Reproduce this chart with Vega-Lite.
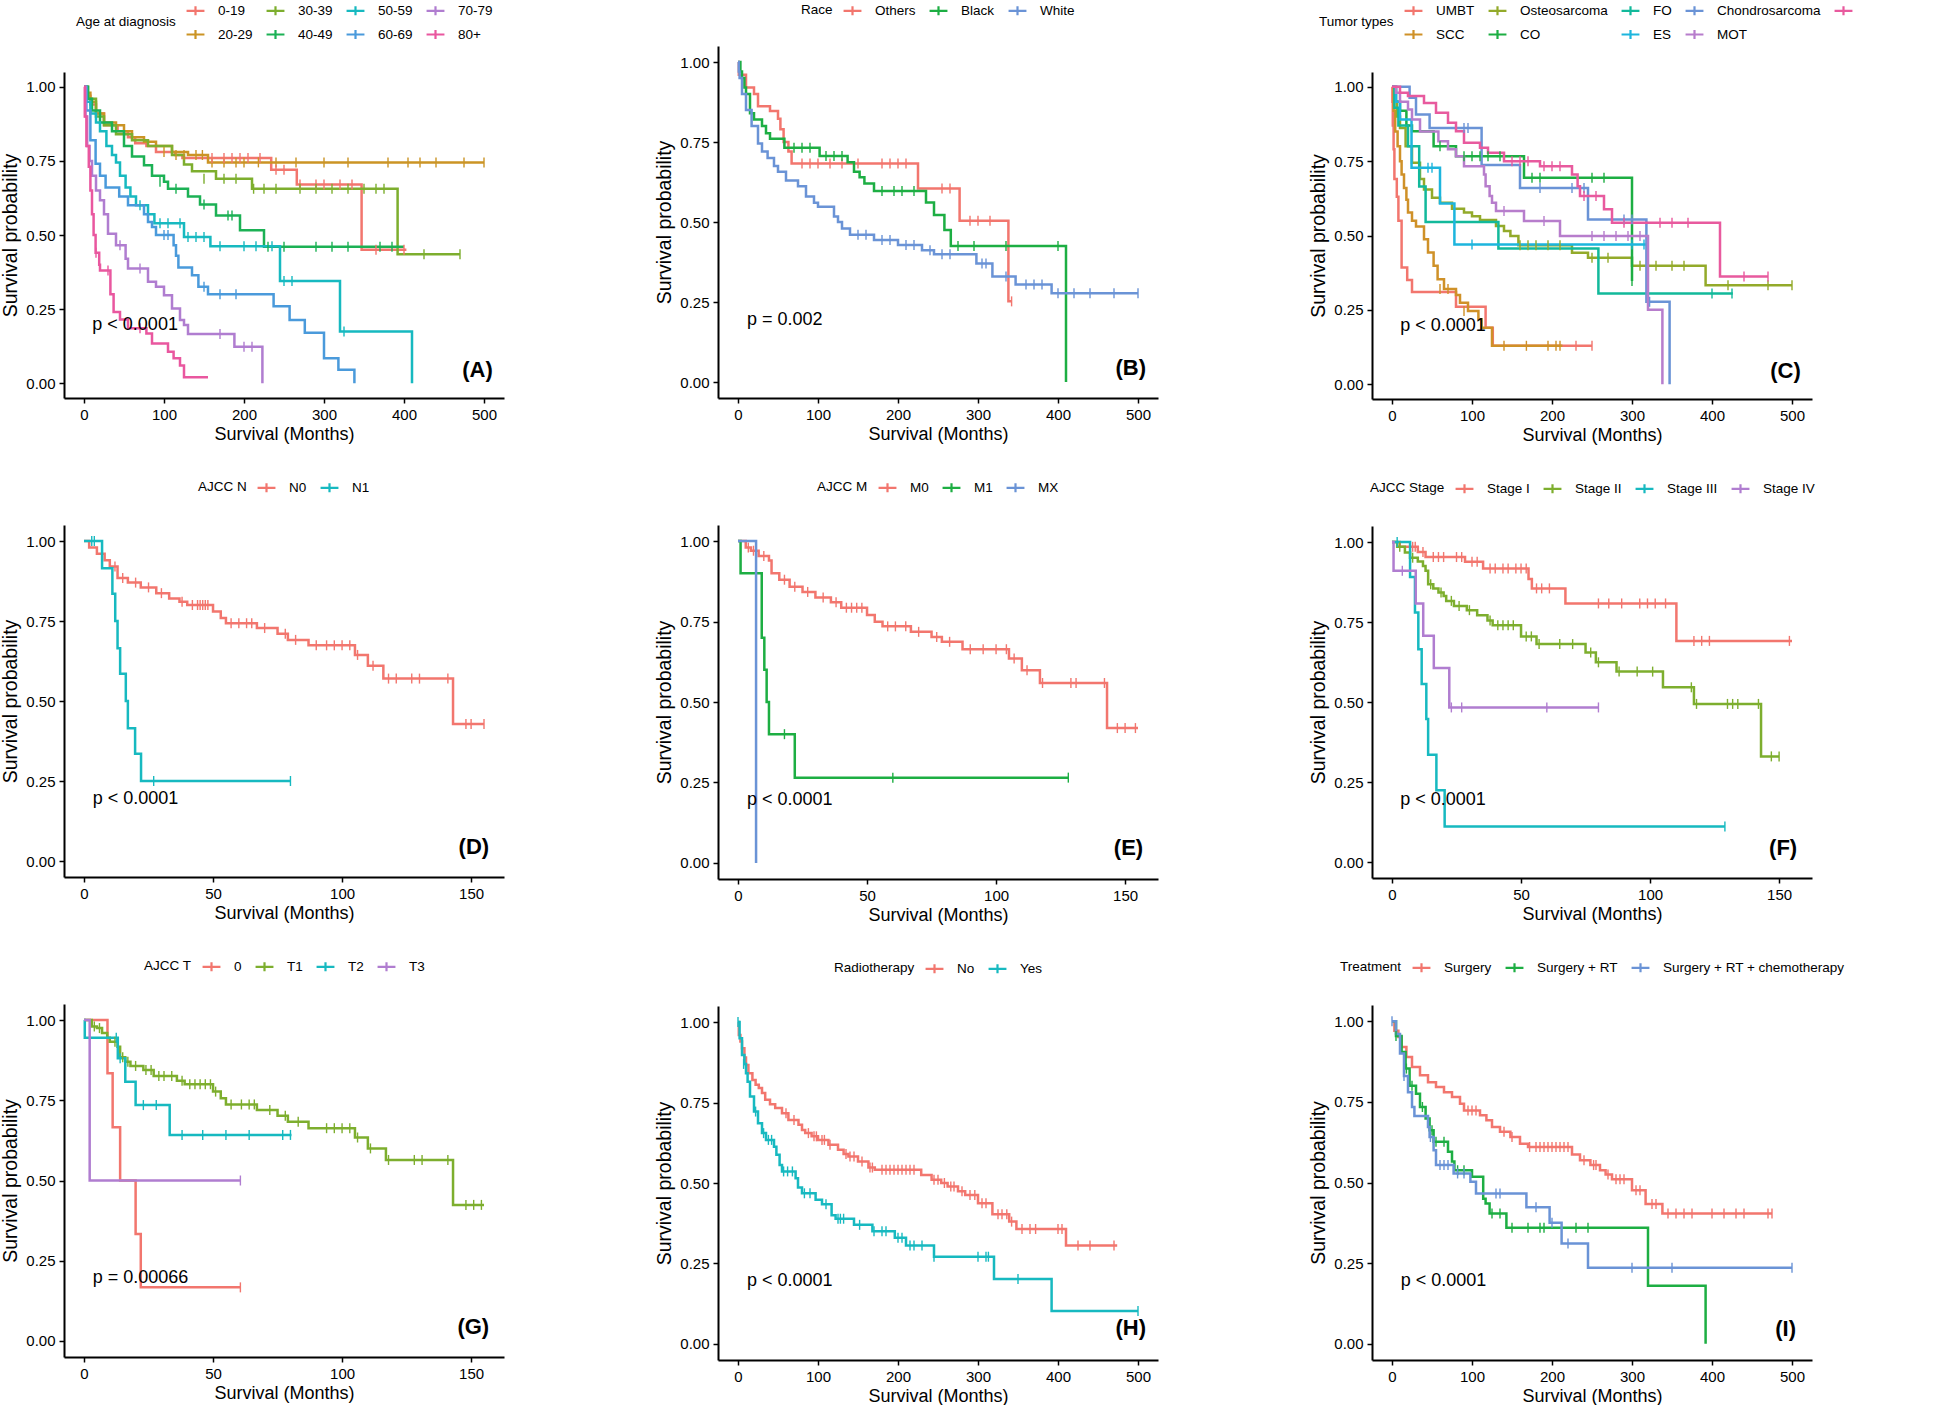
{
"$schema": "https://vega.github.io/schema/vega-lite/v6.json",
"padding": 0,
"background": "white",
"spacing": 150,
"resolve": {"scale": {"color": "independent"}, "legend": {"color": "independent"}},
"config": {
  "font": "Liberation Sans, Arial, sans-serif",
  "view": {"stroke": null},
  "axis": {"grid": false, "domainColor": "black", "domainWidth": 2, "tickColor": "black", "tickWidth": 1.5, "tickSize": 5, "labelColor": "black", "labelFontSize": 15, "labelPadding": 4, "titleFontSize": 18, "titleFontWeight": "normal", "titleColor": "black"},
  "axisY": {"titleFontSize": 19.5, "minExtent": 38, "maxExtent": 38, "titlePadding": 6},
  "axisX": {"titlePadding": 3},
  "legend": {"orient": "top", "direction": "horizontal", "titleOrient": "left", "titleFontSize": 13.5, "titleFontWeight": "normal", "labelFontSize": 13.5, "titleColor": "black", "labelColor": "black", "symbolType": "M-1,0H1M0,-0.5V0.5", "symbolSize": 320, "symbolStrokeWidth": 2.2, "offset": 28, "columnPadding": 9, "rowPadding": 4, "labelOffset": 12, "titlePadding": 9, "labelLimit": 300, "titleAnchor": "middle", "titleBaseline": "middle", "layout": {"top": {"anchor": "middle"}}}
},
"datasets": {
"cur": [
{"p":"A","g":"0-19","t":0,"s":1},{"p":"A","g":"0-19","t":3,"s":0.97},{"p":"A","g":"0-19","t":8,"s":0.94},{"p":"A","g":"0-19","t":15,"s":0.91},{"p":"A","g":"0-19","t":25,"s":0.87},{"p":"A","g":"0-19","t":42,"s":0.85},{"p":"A","g":"0-19","t":55,"s":0.83},{"p":"A","g":"0-19","t":64,"s":0.81},{"p":"A","g":"0-19","t":78,"s":0.8},{"p":"A","g":"0-19","t":90,"s":0.78},{"p":"A","g":"0-19","t":114,"s":0.77},{"p":"A","g":"0-19","t":123,"s":0.76},{"p":"A","g":"0-19","t":234,"s":0.72},{"p":"A","g":"0-19","t":266,"s":0.67},{"p":"A","g":"0-19","t":347,"s":0.45},{"p":"A","g":"0-19","t":403,"s":0.45},
{"p":"A","g":"20-29","t":0,"s":1},{"p":"A","g":"20-29","t":3,"s":0.98},{"p":"A","g":"20-29","t":8,"s":0.95},{"p":"A","g":"20-29","t":15,"s":0.91},{"p":"A","g":"20-29","t":25,"s":0.88},{"p":"A","g":"20-29","t":40,"s":0.87},{"p":"A","g":"20-29","t":50,"s":0.85},{"p":"A","g":"20-29","t":60,"s":0.83},{"p":"A","g":"20-29","t":75,"s":0.815},{"p":"A","g":"20-29","t":90,"s":0.8},{"p":"A","g":"20-29","t":110,"s":0.78},{"p":"A","g":"20-29","t":130,"s":0.77},{"p":"A","g":"20-29","t":155,"s":0.745},{"p":"A","g":"20-29","t":500,"s":0.745},
{"p":"A","g":"30-39","t":0,"s":1},{"p":"A","g":"30-39","t":5,"s":0.96},{"p":"A","g":"30-39","t":15,"s":0.9},{"p":"A","g":"30-39","t":25,"s":0.87},{"p":"A","g":"30-39","t":40,"s":0.84},{"p":"A","g":"30-39","t":60,"s":0.82},{"p":"A","g":"30-39","t":80,"s":0.8},{"p":"A","g":"30-39","t":110,"s":0.77},{"p":"A","g":"30-39","t":125,"s":0.738},{"p":"A","g":"30-39","t":135,"s":0.715},{"p":"A","g":"30-39","t":165,"s":0.69},{"p":"A","g":"30-39","t":210,"s":0.656},{"p":"A","g":"30-39","t":392,"s":0.435},{"p":"A","g":"30-39","t":470,"s":0.435},
{"p":"A","g":"40-49","t":0,"s":1},{"p":"A","g":"40-49","t":5,"s":0.96},{"p":"A","g":"40-49","t":10,"s":0.92},{"p":"A","g":"40-49","t":20,"s":0.88},{"p":"A","g":"40-49","t":35,"s":0.85},{"p":"A","g":"40-49","t":50,"s":0.8},{"p":"A","g":"40-49","t":60,"s":0.765},{"p":"A","g":"40-49","t":75,"s":0.735},{"p":"A","g":"40-49","t":85,"s":0.7},{"p":"A","g":"40-49","t":100,"s":0.68},{"p":"A","g":"40-49","t":105,"s":0.656},{"p":"A","g":"40-49","t":130,"s":0.63},{"p":"A","g":"40-49","t":145,"s":0.603},{"p":"A","g":"40-49","t":165,"s":0.566},{"p":"A","g":"40-49","t":195,"s":0.516},{"p":"A","g":"40-49","t":225,"s":0.46},{"p":"A","g":"40-49","t":400,"s":0.46},
{"p":"A","g":"50-59","t":0,"s":1},{"p":"A","g":"50-59","t":3,"s":0.95},{"p":"A","g":"50-59","t":8,"s":0.91},{"p":"A","g":"50-59","t":15,"s":0.88},{"p":"A","g":"50-59","t":20,"s":0.85},{"p":"A","g":"50-59","t":28,"s":0.8},{"p":"A","g":"50-59","t":35,"s":0.77},{"p":"A","g":"50-59","t":40,"s":0.745},{"p":"A","g":"50-59","t":45,"s":0.7},{"p":"A","g":"50-59","t":52,"s":0.66},{"p":"A","g":"50-59","t":58,"s":0.63},{"p":"A","g":"50-59","t":65,"s":0.6},{"p":"A","g":"50-59","t":80,"s":0.57},{"p":"A","g":"50-59","t":88,"s":0.54},{"p":"A","g":"50-59","t":125,"s":0.493},{"p":"A","g":"50-59","t":158,"s":0.462},{"p":"A","g":"50-59","t":245,"s":0.345},{"p":"A","g":"50-59","t":320,"s":0.174},{"p":"A","g":"50-59","t":410,"s":0},
{"p":"A","g":"60-69","t":0,"s":1},{"p":"A","g":"60-69","t":3,"s":0.92},{"p":"A","g":"60-69","t":8,"s":0.82},{"p":"A","g":"60-69","t":14.5,"s":0.74},{"p":"A","g":"60-69","t":20,"s":0.7},{"p":"A","g":"60-69","t":27,"s":0.66},{"p":"A","g":"60-69","t":44,"s":0.63},{"p":"A","g":"60-69","t":55,"s":0.6},{"p":"A","g":"60-69","t":75,"s":0.57},{"p":"A","g":"60-69","t":80,"s":0.544},{"p":"A","g":"60-69","t":85,"s":0.527},{"p":"A","g":"60-69","t":90,"s":0.5},{"p":"A","g":"60-69","t":112,"s":0.465},{"p":"A","g":"60-69","t":115,"s":0.43},{"p":"A","g":"60-69","t":118,"s":0.39},{"p":"A","g":"60-69","t":135,"s":0.364},{"p":"A","g":"60-69","t":143,"s":0.325},{"p":"A","g":"60-69","t":155,"s":0.3},{"p":"A","g":"60-69","t":237,"s":0.26},{"p":"A","g":"60-69","t":257,"s":0.213},{"p":"A","g":"60-69","t":276,"s":0.17},{"p":"A","g":"60-69","t":300,"s":0.084},{"p":"A","g":"60-69","t":318,"s":0.045},{"p":"A","g":"60-69","t":338,"s":0},
{"p":"A","g":"70-79","t":0,"s":1},{"p":"A","g":"70-79","t":2,"s":0.9},{"p":"A","g":"70-79","t":4,"s":0.8},{"p":"A","g":"70-79","t":7,"s":0.75},{"p":"A","g":"70-79","t":10,"s":0.7},{"p":"A","g":"70-79","t":15,"s":0.65},{"p":"A","g":"70-79","t":20,"s":0.617},{"p":"A","g":"70-79","t":25,"s":0.57},{"p":"A","g":"70-79","t":30,"s":0.504},{"p":"A","g":"70-79","t":40,"s":0.465},{"p":"A","g":"70-79","t":52,"s":0.42},{"p":"A","g":"70-79","t":55,"s":0.387},{"p":"A","g":"70-79","t":80,"s":0.342},{"p":"A","g":"70-79","t":90,"s":0.325},{"p":"A","g":"70-79","t":100,"s":0.297},{"p":"A","g":"70-79","t":110,"s":0.252},{"p":"A","g":"70-79","t":120,"s":0.213},{"p":"A","g":"70-79","t":125,"s":0.196},{"p":"A","g":"70-79","t":130,"s":0.166},{"p":"A","g":"70-79","t":188,"s":0.123},{"p":"A","g":"70-79","t":223,"s":0},
{"p":"A","g":"80+","t":0,"s":1},{"p":"A","g":"80+","t":1,"s":0.9},{"p":"A","g":"80+","t":3,"s":0.8},{"p":"A","g":"80+","t":6,"s":0.73},{"p":"A","g":"80+","t":8,"s":0.65},{"p":"A","g":"80+","t":10,"s":0.57},{"p":"A","g":"80+","t":12,"s":0.5},{"p":"A","g":"80+","t":14.5,"s":0.44},{"p":"A","g":"80+","t":19,"s":0.4},{"p":"A","g":"80+","t":20,"s":0.38},{"p":"A","g":"80+","t":33,"s":0.3},{"p":"A","g":"80+","t":37,"s":0.24},{"p":"A","g":"80+","t":45,"s":0.215},{"p":"A","g":"80+","t":55,"s":0.185},{"p":"A","g":"80+","t":78,"s":0.168},{"p":"A","g":"80+","t":85,"s":0.134},{"p":"A","g":"80+","t":105,"s":0.106},{"p":"A","g":"80+","t":112,"s":0.084},{"p":"A","g":"80+","t":120,"s":0.06},{"p":"A","g":"80+","t":125,"s":0.02},{"p":"A","g":"80+","t":155,"s":0.02},

{"p":"B","g":"Others","t":0,"s":1},{"p":"B","g":"Others","t":1,"s":0.96},{"p":"B","g":"Others","t":10,"s":0.92},{"p":"B","g":"Others","t":20,"s":0.9},{"p":"B","g":"Others","t":25,"s":0.862},{"p":"B","g":"Others","t":40,"s":0.847},{"p":"B","g":"Others","t":50,"s":0.823},{"p":"B","g":"Others","t":53,"s":0.79},{"p":"B","g":"Others","t":57,"s":0.75},{"p":"B","g":"Others","t":63,"s":0.72},{"p":"B","g":"Others","t":67,"s":0.683},{"p":"B","g":"Others","t":225,"s":0.605},{"p":"B","g":"Others","t":277,"s":0.504},{"p":"B","g":"Others","t":338,"s":0.252},{"p":"B","g":"Others","t":342,"s":0.252},
{"p":"B","g":"Black","t":0,"s":1},{"p":"B","g":"Black","t":3,"s":0.97},{"p":"B","g":"Black","t":5,"s":0.95},{"p":"B","g":"Black","t":8,"s":0.92},{"p":"B","g":"Black","t":10,"s":0.9},{"p":"B","g":"Black","t":15,"s":0.84},{"p":"B","g":"Black","t":20,"s":0.82},{"p":"B","g":"Black","t":30,"s":0.8},{"p":"B","g":"Black","t":35,"s":0.777},{"p":"B","g":"Black","t":40,"s":0.76},{"p":"B","g":"Black","t":58,"s":0.732},{"p":"B","g":"Black","t":102,"s":0.706},{"p":"B","g":"Black","t":137,"s":0.687},{"p":"B","g":"Black","t":145,"s":0.657},{"p":"B","g":"Black","t":152,"s":0.64},{"p":"B","g":"Black","t":158,"s":0.62},{"p":"B","g":"Black","t":170,"s":0.597},{"p":"B","g":"Black","t":235,"s":0.561},{"p":"B","g":"Black","t":245,"s":0.522},{"p":"B","g":"Black","t":258,"s":0.475},{"p":"B","g":"Black","t":266,"s":0.425},{"p":"B","g":"Black","t":410,"s":0},
{"p":"B","g":"White","t":0,"s":1},{"p":"B","g":"White","t":1,"s":0.97},{"p":"B","g":"White","t":2,"s":0.95},{"p":"B","g":"White","t":5,"s":0.9},{"p":"B","g":"White","t":10,"s":0.85},{"p":"B","g":"White","t":17,"s":0.8},{"p":"B","g":"White","t":25,"s":0.745},{"p":"B","g":"White","t":30,"s":0.72},{"p":"B","g":"White","t":37,"s":0.7},{"p":"B","g":"White","t":45,"s":0.675},{"p":"B","g":"White","t":50,"s":0.657},{"p":"B","g":"White","t":60,"s":0.63},{"p":"B","g":"White","t":75,"s":0.612},{"p":"B","g":"White","t":85,"s":0.58},{"p":"B","g":"White","t":95,"s":0.56},{"p":"B","g":"White","t":100,"s":0.548},{"p":"B","g":"White","t":120,"s":0.517},{"p":"B","g":"White","t":125,"s":0.5},{"p":"B","g":"White","t":130,"s":0.48},{"p":"B","g":"White","t":140,"s":0.46},{"p":"B","g":"White","t":170,"s":0.444},{"p":"B","g":"White","t":200,"s":0.428},{"p":"B","g":"White","t":230,"s":0.412},{"p":"B","g":"White","t":245,"s":0.399},{"p":"B","g":"White","t":298,"s":0.37},{"p":"B","g":"White","t":318,"s":0.33},{"p":"B","g":"White","t":347,"s":0.305},{"p":"B","g":"White","t":392,"s":0.277},{"p":"B","g":"White","t":500,"s":0.277},

{"p":"C","g":"UMBT","t":0,"s":1},{"p":"C","g":"UMBT","t":0.5,"s":0.95},{"p":"C","g":"UMBT","t":1,"s":0.87},{"p":"C","g":"UMBT","t":2,"s":0.79},{"p":"C","g":"UMBT","t":3,"s":0.69},{"p":"C","g":"UMBT","t":6,"s":0.63},{"p":"C","g":"UMBT","t":8,"s":0.55},{"p":"C","g":"UMBT","t":12,"s":0.392},{"p":"C","g":"UMBT","t":19,"s":0.35},{"p":"C","g":"UMBT","t":25,"s":0.31},{"p":"C","g":"UMBT","t":80,"s":0.26},{"p":"C","g":"UMBT","t":117,"s":0.19},{"p":"C","g":"UMBT","t":126,"s":0.129},{"p":"C","g":"UMBT","t":250,"s":0.129},
{"p":"C","g":"SCC","t":0,"s":1},{"p":"C","g":"SCC","t":2,"s":0.92},{"p":"C","g":"SCC","t":4,"s":0.85},{"p":"C","g":"SCC","t":7,"s":0.8},{"p":"C","g":"SCC","t":10,"s":0.75},{"p":"C","g":"SCC","t":12,"s":0.705},{"p":"C","g":"SCC","t":15,"s":0.66},{"p":"C","g":"SCC","t":18,"s":0.62},{"p":"C","g":"SCC","t":20,"s":0.577},{"p":"C","g":"SCC","t":25,"s":0.55},{"p":"C","g":"SCC","t":30,"s":0.53},{"p":"C","g":"SCC","t":40,"s":0.487},{"p":"C","g":"SCC","t":45,"s":0.443},{"p":"C","g":"SCC","t":52,"s":0.398},{"p":"C","g":"SCC","t":57,"s":0.353},{"p":"C","g":"SCC","t":65,"s":0.32},{"p":"C","g":"SCC","t":80,"s":0.3},{"p":"C","g":"SCC","t":85,"s":0.274},{"p":"C","g":"SCC","t":95,"s":0.246},{"p":"C","g":"SCC","t":108,"s":0.218},{"p":"C","g":"SCC","t":112,"s":0.19},{"p":"C","g":"SCC","t":125,"s":0.129},{"p":"C","g":"SCC","t":213,"s":0.129},
{"p":"C","g":"Osteosarcoma","t":0,"s":1},{"p":"C","g":"Osteosarcoma","t":3,"s":0.95},{"p":"C","g":"Osteosarcoma","t":6,"s":0.9},{"p":"C","g":"Osteosarcoma","t":10,"s":0.862},{"p":"C","g":"Osteosarcoma","t":17,"s":0.8},{"p":"C","g":"Osteosarcoma","t":25,"s":0.745},{"p":"C","g":"Osteosarcoma","t":35,"s":0.69},{"p":"C","g":"Osteosarcoma","t":40,"s":0.655},{"p":"C","g":"Osteosarcoma","t":50,"s":0.627},{"p":"C","g":"Osteosarcoma","t":60,"s":0.61},{"p":"C","g":"Osteosarcoma","t":75,"s":0.59},{"p":"C","g":"Osteosarcoma","t":90,"s":0.577},{"p":"C","g":"Osteosarcoma","t":100,"s":0.565},{"p":"C","g":"Osteosarcoma","t":110,"s":0.552},{"p":"C","g":"Osteosarcoma","t":130,"s":0.532},{"p":"C","g":"Osteosarcoma","t":140,"s":0.515},{"p":"C","g":"Osteosarcoma","t":148,"s":0.498},{"p":"C","g":"Osteosarcoma","t":158,"s":0.467},{"p":"C","g":"Osteosarcoma","t":225,"s":0.442},{"p":"C","g":"Osteosarcoma","t":245,"s":0.425},{"p":"C","g":"Osteosarcoma","t":300,"s":0.398},{"p":"C","g":"Osteosarcoma","t":392,"s":0.333},{"p":"C","g":"Osteosarcoma","t":500,"s":0.333},
{"p":"C","g":"CO","t":0,"s":1},{"p":"C","g":"CO","t":5,"s":0.95},{"p":"C","g":"CO","t":10,"s":0.92},{"p":"C","g":"CO","t":18,"s":0.87},{"p":"C","g":"CO","t":25,"s":0.851},{"p":"C","g":"CO","t":52,"s":0.8},{"p":"C","g":"CO","t":80,"s":0.767},{"p":"C","g":"CO","t":165,"s":0.694},{"p":"C","g":"CO","t":300,"s":0.347},
{"p":"C","g":"FO","t":0,"s":1},{"p":"C","g":"FO","t":3,"s":0.93},{"p":"C","g":"FO","t":8,"s":0.87},{"p":"C","g":"FO","t":20,"s":0.8},{"p":"C","g":"FO","t":34,"s":0.665},{"p":"C","g":"FO","t":42,"s":0.545},{"p":"C","g":"FO","t":133,"s":0.456},{"p":"C","g":"FO","t":258,"s":0.305},{"p":"C","g":"FO","t":426,"s":0.305},
{"p":"C","g":"ES","t":0,"s":1},{"p":"C","g":"ES","t":5,"s":0.95},{"p":"C","g":"ES","t":10,"s":0.89},{"p":"C","g":"ES","t":24.4,"s":0.728},{"p":"C","g":"ES","t":60,"s":0.608},{"p":"C","g":"ES","t":78,"s":0.47},{"p":"C","g":"ES","t":318,"s":0.47},
{"p":"C","g":"Chondrosarcoma","t":0,"s":1},{"p":"C","g":"Chondrosarcoma","t":22,"s":0.963},{"p":"C","g":"Chondrosarcoma","t":30,"s":0.907},{"p":"C","g":"Chondrosarcoma","t":47,"s":0.862},{"p":"C","g":"Chondrosarcoma","t":112,"s":0.737},{"p":"C","g":"Chondrosarcoma","t":160,"s":0.66},{"p":"C","g":"Chondrosarcoma","t":245,"s":0.554},{"p":"C","g":"Chondrosarcoma","t":318,"s":0.277},{"p":"C","g":"Chondrosarcoma","t":347,"s":0},
{"p":"C","g":"MOT","t":0,"s":1},{"p":"C","g":"MOT","t":5,"s":0.98},{"p":"C","g":"MOT","t":10,"s":0.95},{"p":"C","g":"MOT","t":20,"s":0.924},{"p":"C","g":"MOT","t":25,"s":0.89},{"p":"C","g":"MOT","t":35,"s":0.85},{"p":"C","g":"MOT","t":58,"s":0.817},{"p":"C","g":"MOT","t":70,"s":0.79},{"p":"C","g":"MOT","t":80,"s":0.767},{"p":"C","g":"MOT","t":90,"s":0.733},{"p":"C","g":"MOT","t":115,"s":0.705},{"p":"C","g":"MOT","t":117,"s":0.666},{"p":"C","g":"MOT","t":122,"s":0.633},{"p":"C","g":"MOT","t":125,"s":0.61},{"p":"C","g":"MOT","t":130,"s":0.582},{"p":"C","g":"MOT","t":165,"s":0.549},{"p":"C","g":"MOT","t":210,"s":0.498},{"p":"C","g":"MOT","t":320,"s":0.25},{"p":"C","g":"MOT","t":338,"s":0},
{"p":"C","g":"Other","t":0,"s":1},{"p":"C","g":"Other","t":10,"s":0.98},{"p":"C","g":"Other","t":20,"s":0.969},{"p":"C","g":"Other","t":40,"s":0.946},{"p":"C","g":"Other","t":55,"s":0.913},{"p":"C","g":"Other","t":70,"s":0.879},{"p":"C","g":"Other","t":80,"s":0.851},{"p":"C","g":"Other","t":90,"s":0.812},{"p":"C","g":"Other","t":110,"s":0.795},{"p":"C","g":"Other","t":120,"s":0.778},{"p":"C","g":"Other","t":140,"s":0.75},{"p":"C","g":"Other","t":185,"s":0.733},{"p":"C","g":"Other","t":225,"s":0.705},{"p":"C","g":"Other","t":232,"s":0.666},{"p":"C","g":"Other","t":235,"s":0.633},{"p":"C","g":"Other","t":265,"s":0.588},{"p":"C","g":"Other","t":275,"s":0.543},{"p":"C","g":"Other","t":410,"s":0.362},{"p":"C","g":"Other","t":470,"s":0.362},

{"p":"D","g":"N0","t":0,"s":1},{"p":"D","g":"N0","t":2,"s":0.98},{"p":"D","g":"N0","t":5,"s":0.96},{"p":"D","g":"N0","t":8,"s":0.94},{"p":"D","g":"N0","t":10,"s":0.92},{"p":"D","g":"N0","t":13,"s":0.884},{"p":"D","g":"N0","t":17,"s":0.87},{"p":"D","g":"N0","t":22,"s":0.855},{"p":"D","g":"N0","t":28,"s":0.837},{"p":"D","g":"N0","t":33,"s":0.82},{"p":"D","g":"N0","t":37,"s":0.81},{"p":"D","g":"N0","t":40,"s":0.8},{"p":"D","g":"N0","t":50,"s":0.78},{"p":"D","g":"N0","t":53,"s":0.759},{"p":"D","g":"N0","t":55,"s":0.743},{"p":"D","g":"N0","t":67,"s":0.728},{"p":"D","g":"N0","t":75,"s":0.71},{"p":"D","g":"N0","t":79,"s":0.691},{"p":"D","g":"N0","t":87,"s":0.674},{"p":"D","g":"N0","t":105,"s":0.644},{"p":"D","g":"N0","t":110,"s":0.61},{"p":"D","g":"N0","t":116,"s":0.57},{"p":"D","g":"N0","t":143,"s":0.428},{"p":"D","g":"N0","t":155,"s":0.428},
{"p":"D","g":"N1","t":0,"s":1},{"p":"D","g":"N1","t":7,"s":0.915},{"p":"D","g":"N1","t":11,"s":0.835},{"p":"D","g":"N1","t":12.1,"s":0.75},{"p":"D","g":"N1","t":13,"s":0.665},{"p":"D","g":"N1","t":14,"s":0.585},{"p":"D","g":"N1","t":16.2,"s":0.5},{"p":"D","g":"N1","t":17,"s":0.415},{"p":"D","g":"N1","t":19.8,"s":0.335},{"p":"D","g":"N1","t":22.1,"s":0.25},{"p":"D","g":"N1","t":80,"s":0.25},

{"p":"E","g":"M0","t":0,"s":1},{"p":"E","g":"M0","t":3,"s":0.98},{"p":"E","g":"M0","t":5,"s":0.97},{"p":"E","g":"M0","t":8,"s":0.954},{"p":"E","g":"M0","t":12,"s":0.94},{"p":"E","g":"M0","t":13,"s":0.9},{"p":"E","g":"M0","t":16,"s":0.88},{"p":"E","g":"M0","t":20,"s":0.858},{"p":"E","g":"M0","t":25,"s":0.842},{"p":"E","g":"M0","t":30,"s":0.825},{"p":"E","g":"M0","t":36,"s":0.81},{"p":"E","g":"M0","t":40,"s":0.793},{"p":"E","g":"M0","t":50,"s":0.77},{"p":"E","g":"M0","t":53,"s":0.749},{"p":"E","g":"M0","t":56,"s":0.735},{"p":"E","g":"M0","t":67,"s":0.718},{"p":"E","g":"M0","t":75,"s":0.702},{"p":"E","g":"M0","t":79,"s":0.687},{"p":"E","g":"M0","t":87,"s":0.664},{"p":"E","g":"M0","t":105,"s":0.635},{"p":"E","g":"M0","t":110,"s":0.599},{"p":"E","g":"M0","t":117,"s":0.559},{"p":"E","g":"M0","t":143,"s":0.419},{"p":"E","g":"M0","t":155,"s":0.419},
{"p":"E","g":"M1","t":0,"s":1},{"p":"E","g":"M1","t":1,"s":0.9},{"p":"E","g":"M1","t":9.2,"s":0.7},{"p":"E","g":"M1","t":10.2,"s":0.6},{"p":"E","g":"M1","t":11.1,"s":0.5},{"p":"E","g":"M1","t":12,"s":0.4},{"p":"E","g":"M1","t":22,"s":0.265},{"p":"E","g":"M1","t":128,"s":0.265},
{"p":"E","g":"MX","t":0,"s":1},{"p":"E","g":"MX","t":7,"s":0},

{"p":"F","g":"Stage I","t":0,"s":1},{"p":"F","g":"Stage I","t":3,"s":0.985},{"p":"F","g":"Stage I","t":10,"s":0.969},{"p":"F","g":"Stage I","t":13,"s":0.953},{"p":"F","g":"Stage I","t":28.3,"s":0.938},{"p":"F","g":"Stage I","t":35.3,"s":0.917},{"p":"F","g":"Stage I","t":52.9,"s":0.884},{"p":"F","g":"Stage I","t":54.2,"s":0.855},{"p":"F","g":"Stage I","t":67.2,"s":0.808},{"p":"F","g":"Stage I","t":110.2,"s":0.691},{"p":"F","g":"Stage I","t":155,"s":0.691},
{"p":"F","g":"Stage II","t":0,"s":1},{"p":"F","g":"Stage II","t":2,"s":0.985},{"p":"F","g":"Stage II","t":5,"s":0.967},{"p":"F","g":"Stage II","t":7,"s":0.951},{"p":"F","g":"Stage II","t":10,"s":0.939},{"p":"F","g":"Stage II","t":12,"s":0.925},{"p":"F","g":"Stage II","t":13,"s":0.91},{"p":"F","g":"Stage II","t":14,"s":0.868},{"p":"F","g":"Stage II","t":16,"s":0.855},{"p":"F","g":"Stage II","t":18,"s":0.842},{"p":"F","g":"Stage II","t":20,"s":0.831},{"p":"F","g":"Stage II","t":21,"s":0.816},{"p":"F","g":"Stage II","t":24,"s":0.8},{"p":"F","g":"Stage II","t":29,"s":0.787},{"p":"F","g":"Stage II","t":33,"s":0.771},{"p":"F","g":"Stage II","t":37,"s":0.755},{"p":"F","g":"Stage II","t":39,"s":0.74},{"p":"F","g":"Stage II","t":50,"s":0.705},{"p":"F","g":"Stage II","t":56,"s":0.681},{"p":"F","g":"Stage II","t":75,"s":0.655},{"p":"F","g":"Stage II","t":79,"s":0.624},{"p":"F","g":"Stage II","t":87,"s":0.595},{"p":"F","g":"Stage II","t":105,"s":0.546},{"p":"F","g":"Stage II","t":117,"s":0.494},{"p":"F","g":"Stage II","t":143,"s":0.33},{"p":"F","g":"Stage II","t":150,"s":0.33},
{"p":"F","g":"Stage III","t":0,"s":1},{"p":"F","g":"Stage III","t":7,"s":0.891},{"p":"F","g":"Stage III","t":8.9,"s":0.78},{"p":"F","g":"Stage III","t":10.2,"s":0.665},{"p":"F","g":"Stage III","t":11.5,"s":0.556},{"p":"F","g":"Stage III","t":13.3,"s":0.447},{"p":"F","g":"Stage III","t":14,"s":0.335},{"p":"F","g":"Stage III","t":17.2,"s":0.224},{"p":"F","g":"Stage III","t":20.4,"s":0.111},{"p":"F","g":"Stage III","t":129,"s":0.111},
{"p":"F","g":"Stage IV","t":0,"s":1},{"p":"F","g":"Stage IV","t":0.6,"s":0.91},{"p":"F","g":"Stage IV","t":9.2,"s":0.808},{"p":"F","g":"Stage IV","t":12.1,"s":0.707},{"p":"F","g":"Stage IV","t":16.2,"s":0.606},{"p":"F","g":"Stage IV","t":22.2,"s":0.483},{"p":"F","g":"Stage IV","t":80,"s":0.483},

{"p":"G","g":"0","t":0,"s":1},{"p":"G","g":"0","t":9.1,"s":0.834},{"p":"G","g":"0","t":11.1,"s":0.666},{"p":"G","g":"0","t":14,"s":0.5},{"p":"G","g":"0","t":20,"s":0.333},{"p":"G","g":"0","t":22,"s":0.167},{"p":"G","g":"0","t":60.6,"s":0.167},
{"p":"G","g":"T1","t":0,"s":1},{"p":"G","g":"T1","t":3,"s":0.98},{"p":"G","g":"T1","t":5,"s":0.975},{"p":"G","g":"T1","t":7,"s":0.96},{"p":"G","g":"T1","t":9,"s":0.945},{"p":"G","g":"T1","t":10,"s":0.932},{"p":"G","g":"T1","t":13,"s":0.917},{"p":"G","g":"T1","t":14,"s":0.884},{"p":"G","g":"T1","t":16,"s":0.87},{"p":"G","g":"T1","t":18,"s":0.857},{"p":"G","g":"T1","t":23,"s":0.844},{"p":"G","g":"T1","t":27,"s":0.826},{"p":"G","g":"T1","t":36,"s":0.811},{"p":"G","g":"T1","t":39,"s":0.8},{"p":"G","g":"T1","t":50,"s":0.777},{"p":"G","g":"T1","t":53,"s":0.756},{"p":"G","g":"T1","t":55,"s":0.737},{"p":"G","g":"T1","t":67,"s":0.72},{"p":"G","g":"T1","t":75,"s":0.702},{"p":"G","g":"T1","t":79,"s":0.683},{"p":"G","g":"T1","t":87,"s":0.663},{"p":"G","g":"T1","t":105,"s":0.634},{"p":"G","g":"T1","t":110,"s":0.6},{"p":"G","g":"T1","t":117,"s":0.564},{"p":"G","g":"T1","t":143,"s":0.424},{"p":"G","g":"T1","t":155,"s":0.424},
{"p":"G","g":"T2","t":0,"s":1},{"p":"G","g":"T2","t":0.3,"s":0.945},{"p":"G","g":"T2","t":13.1,"s":0.881},{"p":"G","g":"T2","t":16,"s":0.808},{"p":"G","g":"T2","t":20,"s":0.735},{"p":"G","g":"T2","t":33.2,"s":0.642},{"p":"G","g":"T2","t":80.4,"s":0.642},
{"p":"G","g":"T3","t":0,"s":1},{"p":"G","g":"T3","t":2.2,"s":0.5},{"p":"G","g":"T3","t":60.6,"s":0.5},

{"p":"H","g":"No","t":0,"s":1},{"p":"H","g":"No","t":1,"s":0.96},{"p":"H","g":"No","t":3,"s":0.94},{"p":"H","g":"No","t":5,"s":0.919},{"p":"H","g":"No","t":8,"s":0.89},{"p":"H","g":"No","t":10,"s":0.867},{"p":"H","g":"No","t":13,"s":0.841},{"p":"H","g":"No","t":18,"s":0.82},{"p":"H","g":"No","t":22,"s":0.805},{"p":"H","g":"No","t":26,"s":0.795},{"p":"H","g":"No","t":30,"s":0.78},{"p":"H","g":"No","t":34,"s":0.759},{"p":"H","g":"No","t":40,"s":0.745},{"p":"H","g":"No","t":46.5,"s":0.733},{"p":"H","g":"No","t":55,"s":0.717},{"p":"H","g":"No","t":63,"s":0.696},{"p":"H","g":"No","t":75.6,"s":0.681},{"p":"H","g":"No","t":80,"s":0.665},{"p":"H","g":"No","t":84,"s":0.655},{"p":"H","g":"No","t":92,"s":0.645},{"p":"H","g":"No","t":100,"s":0.634},{"p":"H","g":"No","t":113,"s":0.619},{"p":"H","g":"No","t":125,"s":0.603},{"p":"H","g":"No","t":132,"s":0.59},{"p":"H","g":"No","t":138,"s":0.582},{"p":"H","g":"No","t":150,"s":0.567},{"p":"H","g":"No","t":163,"s":0.548},{"p":"H","g":"No","t":171,"s":0.541},{"p":"H","g":"No","t":229,"s":0.525},{"p":"H","g":"No","t":242,"s":0.51},{"p":"H","g":"No","t":254,"s":0.5},{"p":"H","g":"No","t":262,"s":0.489},{"p":"H","g":"No","t":275,"s":0.474},{"p":"H","g":"No","t":284,"s":0.463},{"p":"H","g":"No","t":300,"s":0.437},{"p":"H","g":"No","t":318,"s":0.403},{"p":"H","g":"No","t":339,"s":0.38},{"p":"H","g":"No","t":348,"s":0.357},{"p":"H","g":"No","t":410,"s":0.306},{"p":"H","g":"No","t":474,"s":0.306},
{"p":"H","g":"Yes","t":0,"s":1},{"p":"H","g":"Yes","t":2,"s":0.95},{"p":"H","g":"Yes","t":5,"s":0.898},{"p":"H","g":"Yes","t":8,"s":0.87},{"p":"H","g":"Yes","t":10,"s":0.841},{"p":"H","g":"Yes","t":12,"s":0.815},{"p":"H","g":"Yes","t":15,"s":0.769},{"p":"H","g":"Yes","t":20,"s":0.722},{"p":"H","g":"Yes","t":25,"s":0.686},{"p":"H","g":"Yes","t":30,"s":0.655},{"p":"H","g":"Yes","t":35,"s":0.634},{"p":"H","g":"Yes","t":45,"s":0.613},{"p":"H","g":"Yes","t":48,"s":0.588},{"p":"H","g":"Yes","t":52,"s":0.556},{"p":"H","g":"Yes","t":55,"s":0.536},{"p":"H","g":"Yes","t":72,"s":0.515},{"p":"H","g":"Yes","t":75,"s":0.486},{"p":"H","g":"Yes","t":80,"s":0.468},{"p":"H","g":"Yes","t":97,"s":0.448},{"p":"H","g":"Yes","t":105,"s":0.434},{"p":"H","g":"Yes","t":117,"s":0.4},{"p":"H","g":"Yes","t":122,"s":0.389},{"p":"H","g":"Yes","t":145,"s":0.37},{"p":"H","g":"Yes","t":168,"s":0.35},{"p":"H","g":"Yes","t":196,"s":0.33},{"p":"H","g":"Yes","t":210,"s":0.306},{"p":"H","g":"Yes","t":245,"s":0.271},{"p":"H","g":"Yes","t":320,"s":0.202},{"p":"H","g":"Yes","t":392,"s":0.102},{"p":"H","g":"Yes","t":500,"s":0.102},

{"p":"I","g":"Surgery","t":0,"s":1},{"p":"I","g":"Surgery","t":3,"s":0.97},{"p":"I","g":"Surgery","t":8,"s":0.951},{"p":"I","g":"Surgery","t":12,"s":0.92},{"p":"I","g":"Surgery","t":18,"s":0.889},{"p":"I","g":"Surgery","t":25,"s":0.858},{"p":"I","g":"Surgery","t":35,"s":0.832},{"p":"I","g":"Surgery","t":45,"s":0.811},{"p":"I","g":"Surgery","t":55,"s":0.796},{"p":"I","g":"Surgery","t":65,"s":0.78},{"p":"I","g":"Surgery","t":75,"s":0.765},{"p":"I","g":"Surgery","t":85,"s":0.744},{"p":"I","g":"Surgery","t":90,"s":0.723},{"p":"I","g":"Surgery","t":110,"s":0.708},{"p":"I","g":"Surgery","t":118,"s":0.693},{"p":"I","g":"Surgery","t":125,"s":0.672},{"p":"I","g":"Surgery","t":135,"s":0.657},{"p":"I","g":"Surgery","t":148,"s":0.641},{"p":"I","g":"Surgery","t":160,"s":0.62},{"p":"I","g":"Surgery","t":170,"s":0.61},{"p":"I","g":"Surgery","t":225,"s":0.587},{"p":"I","g":"Surgery","t":235,"s":0.569},{"p":"I","g":"Surgery","t":248,"s":0.554},{"p":"I","g":"Surgery","t":260,"s":0.538},{"p":"I","g":"Surgery","t":267,"s":0.525},{"p":"I","g":"Surgery","t":275,"s":0.51},{"p":"I","g":"Surgery","t":300,"s":0.476},{"p":"I","g":"Surgery","t":317,"s":0.433},{"p":"I","g":"Surgery","t":338,"s":0.404},{"p":"I","g":"Surgery","t":475,"s":0.404},
{"p":"I","g":"Surgery + RT","t":0,"s":1},{"p":"I","g":"Surgery + RT","t":5,"s":0.954},{"p":"I","g":"Surgery + RT","t":12,"s":0.904},{"p":"I","g":"Surgery + RT","t":17,"s":0.853},{"p":"I","g":"Surgery + RT","t":22,"s":0.8},{"p":"I","g":"Surgery + RT","t":30,"s":0.775},{"p":"I","g":"Surgery + RT","t":35,"s":0.734},{"p":"I","g":"Surgery + RT","t":42,"s":0.698},{"p":"I","g":"Surgery + RT","t":47,"s":0.662},{"p":"I","g":"Surgery + RT","t":52,"s":0.626},{"p":"I","g":"Surgery + RT","t":70,"s":0.595},{"p":"I","g":"Surgery + RT","t":75,"s":0.565},{"p":"I","g":"Surgery + RT","t":78,"s":0.538},{"p":"I","g":"Surgery + RT","t":100,"s":0.518},{"p":"I","g":"Surgery + RT","t":114,"s":0.45},{"p":"I","g":"Surgery + RT","t":117,"s":0.435},{"p":"I","g":"Surgery + RT","t":122,"s":0.404},{"p":"I","g":"Surgery + RT","t":143,"s":0.36},{"p":"I","g":"Surgery + RT","t":320,"s":0.18},{"p":"I","g":"Surgery + RT","t":392,"s":0},
{"p":"I","g":"Surgery + RT + chemotherapy","t":0,"s":1},{"p":"I","g":"Surgery + RT + chemotherapy","t":5,"s":0.96},{"p":"I","g":"Surgery + RT + chemotherapy","t":10,"s":0.9},{"p":"I","g":"Surgery + RT + chemotherapy","t":15,"s":0.83},{"p":"I","g":"Surgery + RT + chemotherapy","t":20,"s":0.78},{"p":"I","g":"Surgery + RT + chemotherapy","t":25,"s":0.734},{"p":"I","g":"Surgery + RT + chemotherapy","t":28,"s":0.706},{"p":"I","g":"Surgery + RT + chemotherapy","t":45,"s":0.672},{"p":"I","g":"Surgery + RT + chemotherapy","t":47,"s":0.641},{"p":"I","g":"Surgery + RT + chemotherapy","t":52,"s":0.6},{"p":"I","g":"Surgery + RT + chemotherapy","t":55,"s":0.554},{"p":"I","g":"Surgery + RT + chemotherapy","t":77,"s":0.528},{"p":"I","g":"Surgery + RT + chemotherapy","t":98,"s":0.502},{"p":"I","g":"Surgery + RT + chemotherapy","t":105,"s":0.466},{"p":"I","g":"Surgery + RT + chemotherapy","t":168,"s":0.423},{"p":"I","g":"Surgery + RT + chemotherapy","t":197,"s":0.375},{"p":"I","g":"Surgery + RT + chemotherapy","t":212,"s":0.311},{"p":"I","g":"Surgery + RT + chemotherapy","t":245,"s":0.236},{"p":"I","g":"Surgery + RT + chemotherapy","t":500,"s":0.236}
],
"cen": [
{"p":"A","g":"20-29","t":100,"s":0.78},{"p":"A","g":"20-29","t":115,"s":0.77},{"p":"A","g":"20-29","t":125,"s":0.77},{"p":"A","g":"20-29","t":140,"s":0.77},{"p":"A","g":"20-29","t":148,"s":0.77},{"p":"A","g":"20-29","t":160,"s":0.745},{"p":"A","g":"20-29","t":175,"s":0.745},{"p":"A","g":"20-29","t":190,"s":0.745},{"p":"A","g":"20-29","t":200,"s":0.745},{"p":"A","g":"20-29","t":218,"s":0.745},{"p":"A","g":"20-29","t":240,"s":0.745},{"p":"A","g":"20-29","t":265,"s":0.745},{"p":"A","g":"20-29","t":300,"s":0.745},{"p":"A","g":"20-29","t":330,"s":0.745},{"p":"A","g":"20-29","t":380,"s":0.745},{"p":"A","g":"20-29","t":405,"s":0.745},{"p":"A","g":"20-29","t":420,"s":0.745},{"p":"A","g":"20-29","t":440,"s":0.745},{"p":"A","g":"20-29","t":475,"s":0.745},{"p":"A","g":"20-29","t":500,"s":0.745},
{"p":"A","g":"0-19","t":160,"s":0.76},{"p":"A","g":"0-19","t":175,"s":0.76},{"p":"A","g":"0-19","t":185,"s":0.76},{"p":"A","g":"0-19","t":195,"s":0.76},{"p":"A","g":"0-19","t":205,"s":0.76},{"p":"A","g":"0-19","t":220,"s":0.76},{"p":"A","g":"0-19","t":240,"s":0.72},{"p":"A","g":"0-19","t":250,"s":0.72},{"p":"A","g":"0-19","t":270,"s":0.67},{"p":"A","g":"0-19","t":290,"s":0.67},{"p":"A","g":"0-19","t":300,"s":0.67},{"p":"A","g":"0-19","t":320,"s":0.67},{"p":"A","g":"0-19","t":335,"s":0.67},{"p":"A","g":"0-19","t":365,"s":0.45},{"p":"A","g":"0-19","t":400,"s":0.45},
{"p":"A","g":"30-39","t":150,"s":0.69},{"p":"A","g":"30-39","t":175,"s":0.69},{"p":"A","g":"30-39","t":190,"s":0.69},{"p":"A","g":"30-39","t":212,"s":0.656},{"p":"A","g":"30-39","t":225,"s":0.656},{"p":"A","g":"30-39","t":240,"s":0.656},{"p":"A","g":"30-39","t":270,"s":0.656},{"p":"A","g":"30-39","t":290,"s":0.656},{"p":"A","g":"30-39","t":310,"s":0.656},{"p":"A","g":"30-39","t":330,"s":0.656},{"p":"A","g":"30-39","t":350,"s":0.656},{"p":"A","g":"30-39","t":365,"s":0.656},{"p":"A","g":"30-39","t":375,"s":0.656},{"p":"A","g":"30-39","t":425,"s":0.435},{"p":"A","g":"30-39","t":470,"s":0.435},
{"p":"A","g":"40-49","t":95,"s":0.68},{"p":"A","g":"40-49","t":115,"s":0.656},{"p":"A","g":"40-49","t":150,"s":0.603},{"p":"A","g":"40-49","t":180,"s":0.566},{"p":"A","g":"40-49","t":185,"s":0.566},{"p":"A","g":"40-49","t":230,"s":0.46},{"p":"A","g":"40-49","t":250,"s":0.46},{"p":"A","g":"40-49","t":290,"s":0.46},{"p":"A","g":"40-49","t":310,"s":0.46},{"p":"A","g":"40-49","t":330,"s":0.46},{"p":"A","g":"40-49","t":370,"s":0.46},{"p":"A","g":"40-49","t":385,"s":0.46},
{"p":"A","g":"50-59","t":70,"s":0.6},{"p":"A","g":"50-59","t":95,"s":0.54},{"p":"A","g":"50-59","t":105,"s":0.54},{"p":"A","g":"50-59","t":120,"s":0.54},{"p":"A","g":"50-59","t":130,"s":0.493},{"p":"A","g":"50-59","t":140,"s":0.493},{"p":"A","g":"50-59","t":150,"s":0.493},{"p":"A","g":"50-59","t":170,"s":0.462},{"p":"A","g":"50-59","t":200,"s":0.462},{"p":"A","g":"50-59","t":215,"s":0.462},{"p":"A","g":"50-59","t":235,"s":0.462},{"p":"A","g":"50-59","t":250,"s":0.345},{"p":"A","g":"50-59","t":260,"s":0.345},{"p":"A","g":"50-59","t":325,"s":0.174},
{"p":"A","g":"60-69","t":100,"s":0.5},{"p":"A","g":"60-69","t":105,"s":0.5},{"p":"A","g":"60-69","t":150,"s":0.325},{"p":"A","g":"60-69","t":170,"s":0.3},{"p":"A","g":"60-69","t":190,"s":0.3},
{"p":"A","g":"70-79","t":45,"s":0.465},{"p":"A","g":"70-79","t":70,"s":0.387},{"p":"A","g":"70-79","t":170,"s":0.166},{"p":"A","g":"70-79","t":200,"s":0.123},{"p":"A","g":"70-79","t":210,"s":0.123},
{"p":"A","g":"80+","t":15,"s":0.44},{"p":"A","g":"80+","t":30,"s":0.38},{"p":"A","g":"80+","t":70,"s":0.185},

{"p":"B","g":"Others","t":80,"s":0.683},{"p":"B","g":"Others","t":90,"s":0.683},{"p":"B","g":"Others","t":100,"s":0.683},{"p":"B","g":"Others","t":115,"s":0.683},{"p":"B","g":"Others","t":130,"s":0.683},{"p":"B","g":"Others","t":150,"s":0.683},{"p":"B","g":"Others","t":180,"s":0.683},{"p":"B","g":"Others","t":190,"s":0.683},{"p":"B","g":"Others","t":200,"s":0.683},{"p":"B","g":"Others","t":210,"s":0.683},{"p":"B","g":"Others","t":255,"s":0.605},{"p":"B","g":"Others","t":265,"s":0.605},{"p":"B","g":"Others","t":290,"s":0.504},{"p":"B","g":"Others","t":300,"s":0.504},{"p":"B","g":"Others","t":315,"s":0.504},{"p":"B","g":"Others","t":342,"s":0.252},
{"p":"B","g":"Black","t":70,"s":0.732},{"p":"B","g":"Black","t":80,"s":0.732},{"p":"B","g":"Black","t":90,"s":0.732},{"p":"B","g":"Black","t":110,"s":0.706},{"p":"B","g":"Black","t":120,"s":0.706},{"p":"B","g":"Black","t":130,"s":0.706},{"p":"B","g":"Black","t":180,"s":0.597},{"p":"B","g":"Black","t":195,"s":0.597},{"p":"B","g":"Black","t":205,"s":0.597},{"p":"B","g":"Black","t":220,"s":0.597},{"p":"B","g":"Black","t":275,"s":0.425},{"p":"B","g":"Black","t":295,"s":0.425},{"p":"B","g":"Black","t":335,"s":0.425},{"p":"B","g":"Black","t":400,"s":0.425},
{"p":"B","g":"White","t":150,"s":0.46},{"p":"B","g":"White","t":160,"s":0.46},{"p":"B","g":"White","t":180,"s":0.444},{"p":"B","g":"White","t":190,"s":0.444},{"p":"B","g":"White","t":210,"s":0.428},{"p":"B","g":"White","t":220,"s":0.428},{"p":"B","g":"White","t":240,"s":0.412},{"p":"B","g":"White","t":255,"s":0.399},{"p":"B","g":"White","t":265,"s":0.399},{"p":"B","g":"White","t":305,"s":0.37},{"p":"B","g":"White","t":310,"s":0.37},{"p":"B","g":"White","t":335,"s":0.33},{"p":"B","g":"White","t":360,"s":0.305},{"p":"B","g":"White","t":370,"s":0.305},{"p":"B","g":"White","t":380,"s":0.305},{"p":"B","g":"White","t":400,"s":0.277},{"p":"B","g":"White","t":420,"s":0.277},{"p":"B","g":"White","t":440,"s":0.277},{"p":"B","g":"White","t":470,"s":0.277},{"p":"B","g":"White","t":500,"s":0.277},

{"p":"C","g":"UMBT","t":230,"s":0.129},{"p":"C","g":"UMBT","t":250,"s":0.129},
{"p":"C","g":"SCC","t":60,"s":0.32},{"p":"C","g":"SCC","t":70,"s":0.32},{"p":"C","g":"SCC","t":90,"s":0.246},{"p":"C","g":"SCC","t":140,"s":0.129},{"p":"C","g":"SCC","t":168,"s":0.129},{"p":"C","g":"SCC","t":195,"s":0.129},{"p":"C","g":"SCC","t":205,"s":0.129},{"p":"C","g":"SCC","t":210,"s":0.129},
{"p":"C","g":"Osteosarcoma","t":160,"s":0.467},{"p":"C","g":"Osteosarcoma","t":170,"s":0.467},{"p":"C","g":"Osteosarcoma","t":180,"s":0.467},{"p":"C","g":"Osteosarcoma","t":195,"s":0.467},{"p":"C","g":"Osteosarcoma","t":210,"s":0.467},{"p":"C","g":"Osteosarcoma","t":250,"s":0.425},{"p":"C","g":"Osteosarcoma","t":270,"s":0.425},{"p":"C","g":"Osteosarcoma","t":310,"s":0.398},{"p":"C","g":"Osteosarcoma","t":330,"s":0.398},{"p":"C","g":"Osteosarcoma","t":350,"s":0.398},{"p":"C","g":"Osteosarcoma","t":365,"s":0.398},{"p":"C","g":"Osteosarcoma","t":420,"s":0.333},{"p":"C","g":"Osteosarcoma","t":470,"s":0.333},{"p":"C","g":"Osteosarcoma","t":500,"s":0.333},
{"p":"C","g":"CO","t":60,"s":0.8},{"p":"C","g":"CO","t":90,"s":0.767},{"p":"C","g":"CO","t":100,"s":0.767},{"p":"C","g":"CO","t":110,"s":0.767},{"p":"C","g":"CO","t":120,"s":0.767},{"p":"C","g":"CO","t":135,"s":0.767},{"p":"C","g":"CO","t":175,"s":0.694},{"p":"C","g":"CO","t":185,"s":0.694},{"p":"C","g":"CO","t":250,"s":0.694},{"p":"C","g":"CO","t":265,"s":0.694},{"p":"C","g":"CO","t":300,"s":0.347},
{"p":"C","g":"FO","t":400,"s":0.305},{"p":"C","g":"FO","t":425,"s":0.305},
{"p":"C","g":"ES","t":45,"s":0.728},{"p":"C","g":"ES","t":50,"s":0.728},{"p":"C","g":"ES","t":100,"s":0.47},{"p":"C","g":"ES","t":300,"s":0.47},{"p":"C","g":"ES","t":315,"s":0.47},
{"p":"C","g":"Chondrosarcoma","t":90,"s":0.862},{"p":"C","g":"Chondrosarcoma","t":95,"s":0.862},{"p":"C","g":"Chondrosarcoma","t":185,"s":0.66},{"p":"C","g":"Chondrosarcoma","t":225,"s":0.66},{"p":"C","g":"Chondrosarcoma","t":240,"s":0.66},{"p":"C","g":"Chondrosarcoma","t":290,"s":0.554},{"p":"C","g":"Chondrosarcoma","t":300,"s":0.554},{"p":"C","g":"Chondrosarcoma","t":322,"s":0.277},
{"p":"C","g":"MOT","t":140,"s":0.582},{"p":"C","g":"MOT","t":190,"s":0.549},{"p":"C","g":"MOT","t":250,"s":0.498},{"p":"C","g":"MOT","t":265,"s":0.498},{"p":"C","g":"MOT","t":280,"s":0.498},{"p":"C","g":"MOT","t":295,"s":0.498},{"p":"C","g":"MOT","t":310,"s":0.498},
{"p":"C","g":"Other","t":150,"s":0.75},{"p":"C","g":"Other","t":160,"s":0.75},{"p":"C","g":"Other","t":170,"s":0.75},{"p":"C","g":"Other","t":190,"s":0.733},{"p":"C","g":"Other","t":200,"s":0.733},{"p":"C","g":"Other","t":210,"s":0.733},{"p":"C","g":"Other","t":240,"s":0.633},{"p":"C","g":"Other","t":255,"s":0.633},{"p":"C","g":"Other","t":290,"s":0.543},{"p":"C","g":"Other","t":335,"s":0.543},{"p":"C","g":"Other","t":350,"s":0.543},{"p":"C","g":"Other","t":370,"s":0.543},{"p":"C","g":"Other","t":440,"s":0.362},{"p":"C","g":"Other","t":470,"s":0.362},

{"p":"D","g":"N0","t":12,"s":0.92},{"p":"D","g":"N0","t":15,"s":0.884},{"p":"D","g":"N0","t":20,"s":0.87},{"p":"D","g":"N0","t":25,"s":0.855},{"p":"D","g":"N0","t":30,"s":0.837},{"p":"D","g":"N0","t":38,"s":0.81},{"p":"D","g":"N0","t":42,"s":0.8},{"p":"D","g":"N0","t":44,"s":0.8},{"p":"D","g":"N0","t":45,"s":0.8},{"p":"D","g":"N0","t":46,"s":0.8},{"p":"D","g":"N0","t":47,"s":0.8},{"p":"D","g":"N0","t":48,"s":0.8},{"p":"D","g":"N0","t":57,"s":0.743},{"p":"D","g":"N0","t":60,"s":0.743},{"p":"D","g":"N0","t":63,"s":0.743},{"p":"D","g":"N0","t":65,"s":0.743},{"p":"D","g":"N0","t":70,"s":0.728},{"p":"D","g":"N0","t":78,"s":0.71},{"p":"D","g":"N0","t":82,"s":0.691},{"p":"D","g":"N0","t":90,"s":0.674},{"p":"D","g":"N0","t":94,"s":0.674},{"p":"D","g":"N0","t":97,"s":0.674},{"p":"D","g":"N0","t":100,"s":0.674},{"p":"D","g":"N0","t":103,"s":0.674},{"p":"D","g":"N0","t":106,"s":0.644},{"p":"D","g":"N0","t":112,"s":0.61},{"p":"D","g":"N0","t":118,"s":0.57},{"p":"D","g":"N0","t":121,"s":0.57},{"p":"D","g":"N0","t":127,"s":0.57},{"p":"D","g":"N0","t":130,"s":0.57},{"p":"D","g":"N0","t":141,"s":0.57},{"p":"D","g":"N0","t":148,"s":0.428},{"p":"D","g":"N0","t":150,"s":0.428},{"p":"D","g":"N0","t":155,"s":0.428},
{"p":"D","g":"N1","t":3,"s":1},{"p":"D","g":"N1","t":4,"s":1},{"p":"D","g":"N1","t":27,"s":0.25},{"p":"D","g":"N1","t":80,"s":0.25},

{"p":"E","g":"M0","t":4,"s":0.98},{"p":"E","g":"M0","t":6,"s":0.97},{"p":"E","g":"M0","t":10,"s":0.954},{"p":"E","g":"M0","t":18,"s":0.88},{"p":"E","g":"M0","t":22,"s":0.858},{"p":"E","g":"M0","t":27,"s":0.842},{"p":"E","g":"M0","t":33,"s":0.825},{"p":"E","g":"M0","t":38,"s":0.81},{"p":"E","g":"M0","t":42,"s":0.793},{"p":"E","g":"M0","t":44,"s":0.793},{"p":"E","g":"M0","t":46,"s":0.793},{"p":"E","g":"M0","t":48,"s":0.793},{"p":"E","g":"M0","t":58,"s":0.735},{"p":"E","g":"M0","t":61,"s":0.735},{"p":"E","g":"M0","t":65,"s":0.735},{"p":"E","g":"M0","t":70,"s":0.718},{"p":"E","g":"M0","t":77,"s":0.702},{"p":"E","g":"M0","t":82,"s":0.687},{"p":"E","g":"M0","t":90,"s":0.664},{"p":"E","g":"M0","t":95,"s":0.664},{"p":"E","g":"M0","t":100,"s":0.664},{"p":"E","g":"M0","t":104,"s":0.664},{"p":"E","g":"M0","t":107,"s":0.635},{"p":"E","g":"M0","t":112,"s":0.599},{"p":"E","g":"M0","t":118,"s":0.559},{"p":"E","g":"M0","t":129,"s":0.559},{"p":"E","g":"M0","t":131,"s":0.559},{"p":"E","g":"M0","t":142,"s":0.559},{"p":"E","g":"M0","t":147,"s":0.419},{"p":"E","g":"M0","t":150,"s":0.419},{"p":"E","g":"M0","t":154,"s":0.419},
{"p":"E","g":"M1","t":18,"s":0.4},{"p":"E","g":"M1","t":60,"s":0.265},{"p":"E","g":"M1","t":128,"s":0.265},

{"p":"F","g":"Stage I","t":8,"s":0.985},{"p":"F","g":"Stage I","t":9,"s":0.985},{"p":"F","g":"Stage I","t":12,"s":0.969},{"p":"F","g":"Stage I","t":16,"s":0.953},{"p":"F","g":"Stage I","t":18,"s":0.953},{"p":"F","g":"Stage I","t":20,"s":0.953},{"p":"F","g":"Stage I","t":25,"s":0.953},{"p":"F","g":"Stage I","t":27,"s":0.953},{"p":"F","g":"Stage I","t":31,"s":0.938},{"p":"F","g":"Stage I","t":33,"s":0.938},{"p":"F","g":"Stage I","t":38,"s":0.917},{"p":"F","g":"Stage I","t":40,"s":0.917},{"p":"F","g":"Stage I","t":43,"s":0.917},{"p":"F","g":"Stage I","t":45,"s":0.917},{"p":"F","g":"Stage I","t":48,"s":0.917},{"p":"F","g":"Stage I","t":50,"s":0.917},{"p":"F","g":"Stage I","t":52,"s":0.917},{"p":"F","g":"Stage I","t":56,"s":0.855},{"p":"F","g":"Stage I","t":58,"s":0.855},{"p":"F","g":"Stage I","t":61,"s":0.855},{"p":"F","g":"Stage I","t":80,"s":0.808},{"p":"F","g":"Stage I","t":84,"s":0.808},{"p":"F","g":"Stage I","t":89,"s":0.808},{"p":"F","g":"Stage I","t":96,"s":0.808},{"p":"F","g":"Stage I","t":99,"s":0.808},{"p":"F","g":"Stage I","t":102,"s":0.808},{"p":"F","g":"Stage I","t":106,"s":0.808},{"p":"F","g":"Stage I","t":117,"s":0.691},{"p":"F","g":"Stage I","t":120,"s":0.691},{"p":"F","g":"Stage I","t":123,"s":0.691},{"p":"F","g":"Stage I","t":154,"s":0.691},
{"p":"F","g":"Stage II","t":3,"s":0.985},{"p":"F","g":"Stage II","t":8,"s":0.951},{"p":"F","g":"Stage II","t":15,"s":0.868},{"p":"F","g":"Stage II","t":19,"s":0.842},{"p":"F","g":"Stage II","t":23,"s":0.816},{"p":"F","g":"Stage II","t":26,"s":0.8},{"p":"F","g":"Stage II","t":30,"s":0.787},{"p":"F","g":"Stage II","t":38,"s":0.755},{"p":"F","g":"Stage II","t":41,"s":0.74},{"p":"F","g":"Stage II","t":43,"s":0.74},{"p":"F","g":"Stage II","t":45,"s":0.74},{"p":"F","g":"Stage II","t":47,"s":0.74},{"p":"F","g":"Stage II","t":52,"s":0.705},{"p":"F","g":"Stage II","t":54,"s":0.705},{"p":"F","g":"Stage II","t":57,"s":0.681},{"p":"F","g":"Stage II","t":65,"s":0.681},{"p":"F","g":"Stage II","t":70,"s":0.681},{"p":"F","g":"Stage II","t":77,"s":0.655},{"p":"F","g":"Stage II","t":80,"s":0.624},{"p":"F","g":"Stage II","t":88,"s":0.595},{"p":"F","g":"Stage II","t":95,"s":0.595},{"p":"F","g":"Stage II","t":101,"s":0.595},{"p":"F","g":"Stage II","t":116,"s":0.546},{"p":"F","g":"Stage II","t":118,"s":0.494},{"p":"F","g":"Stage II","t":130,"s":0.494},{"p":"F","g":"Stage II","t":132,"s":0.494},{"p":"F","g":"Stage II","t":134,"s":0.494},{"p":"F","g":"Stage II","t":142,"s":0.494},{"p":"F","g":"Stage II","t":147,"s":0.33},{"p":"F","g":"Stage II","t":150,"s":0.33},
{"p":"F","g":"Stage III","t":2,"s":1},{"p":"F","g":"Stage III","t":129,"s":0.111},
{"p":"F","g":"Stage IV","t":4,"s":0.91},{"p":"F","g":"Stage IV","t":23,"s":0.483},{"p":"F","g":"Stage IV","t":27,"s":0.483},{"p":"F","g":"Stage IV","t":60,"s":0.483},{"p":"F","g":"Stage IV","t":80,"s":0.483},

{"p":"G","g":"0","t":60.6,"s":0.167},
{"p":"G","g":"T1","t":4,"s":0.98},{"p":"G","g":"T1","t":6,"s":0.975},{"p":"G","g":"T1","t":12,"s":0.932},{"p":"G","g":"T1","t":15,"s":0.884},{"p":"G","g":"T1","t":17,"s":0.87},{"p":"G","g":"T1","t":20,"s":0.857},{"p":"G","g":"T1","t":24,"s":0.844},{"p":"G","g":"T1","t":26,"s":0.844},{"p":"G","g":"T1","t":29,"s":0.826},{"p":"G","g":"T1","t":31,"s":0.826},{"p":"G","g":"T1","t":34,"s":0.826},{"p":"G","g":"T1","t":38,"s":0.811},{"p":"G","g":"T1","t":41,"s":0.8},{"p":"G","g":"T1","t":43,"s":0.8},{"p":"G","g":"T1","t":45,"s":0.8},{"p":"G","g":"T1","t":47,"s":0.8},{"p":"G","g":"T1","t":49,"s":0.8},{"p":"G","g":"T1","t":51,"s":0.777},{"p":"G","g":"T1","t":57,"s":0.737},{"p":"G","g":"T1","t":61,"s":0.737},{"p":"G","g":"T1","t":64,"s":0.737},{"p":"G","g":"T1","t":66,"s":0.737},{"p":"G","g":"T1","t":72,"s":0.72},{"p":"G","g":"T1","t":78,"s":0.702},{"p":"G","g":"T1","t":83,"s":0.683},{"p":"G","g":"T1","t":94,"s":0.663},{"p":"G","g":"T1","t":97,"s":0.663},{"p":"G","g":"T1","t":100,"s":0.663},{"p":"G","g":"T1","t":103,"s":0.663},{"p":"G","g":"T1","t":106,"s":0.634},{"p":"G","g":"T1","t":111,"s":0.6},{"p":"G","g":"T1","t":118,"s":0.564},{"p":"G","g":"T1","t":128,"s":0.564},{"p":"G","g":"T1","t":131,"s":0.564},{"p":"G","g":"T1","t":141,"s":0.564},{"p":"G","g":"T1","t":148,"s":0.424},{"p":"G","g":"T1","t":151,"s":0.424},{"p":"G","g":"T1","t":154,"s":0.424},
{"p":"G","g":"T2","t":12.5,"s":0.945},{"p":"G","g":"T2","t":14,"s":0.881},{"p":"G","g":"T2","t":23,"s":0.735},{"p":"G","g":"T2","t":28,"s":0.735},{"p":"G","g":"T2","t":38,"s":0.642},{"p":"G","g":"T2","t":46,"s":0.642},{"p":"G","g":"T2","t":55,"s":0.642},{"p":"G","g":"T2","t":64,"s":0.642},{"p":"G","g":"T2","t":77,"s":0.642},{"p":"G","g":"T2","t":80,"s":0.642},
{"p":"G","g":"T3","t":60.6,"s":0.5},

{"p":"H","g":"No","t":60,"s":0.717},{"p":"H","g":"No","t":70,"s":0.696},{"p":"H","g":"No","t":88,"s":0.655},{"p":"H","g":"No","t":95,"s":0.645},{"p":"H","g":"No","t":98,"s":0.645},{"p":"H","g":"No","t":105,"s":0.634},{"p":"H","g":"No","t":108,"s":0.634},{"p":"H","g":"No","t":115,"s":0.619},{"p":"H","g":"No","t":135,"s":0.59},{"p":"H","g":"No","t":140,"s":0.582},{"p":"H","g":"No","t":145,"s":0.582},{"p":"H","g":"No","t":155,"s":0.567},{"p":"H","g":"No","t":165,"s":0.548},{"p":"H","g":"No","t":168,"s":0.548},{"p":"H","g":"No","t":180,"s":0.541},{"p":"H","g":"No","t":185,"s":0.541},{"p":"H","g":"No","t":190,"s":0.541},{"p":"H","g":"No","t":195,"s":0.541},{"p":"H","g":"No","t":200,"s":0.541},{"p":"H","g":"No","t":205,"s":0.541},{"p":"H","g":"No","t":210,"s":0.541},{"p":"H","g":"No","t":215,"s":0.541},{"p":"H","g":"No","t":220,"s":0.541},{"p":"H","g":"No","t":245,"s":0.51},{"p":"H","g":"No","t":250,"s":0.51},{"p":"H","g":"No","t":258,"s":0.5},{"p":"H","g":"No","t":266,"s":0.489},{"p":"H","g":"No","t":270,"s":0.489},{"p":"H","g":"No","t":280,"s":0.474},{"p":"H","g":"No","t":290,"s":0.463},{"p":"H","g":"No","t":296,"s":0.463},{"p":"H","g":"No","t":305,"s":0.437},{"p":"H","g":"No","t":310,"s":0.437},{"p":"H","g":"No","t":325,"s":0.403},{"p":"H","g":"No","t":330,"s":0.403},{"p":"H","g":"No","t":336,"s":0.403},{"p":"H","g":"No","t":342,"s":0.38},{"p":"H","g":"No","t":355,"s":0.357},{"p":"H","g":"No","t":365,"s":0.357},{"p":"H","g":"No","t":372,"s":0.357},{"p":"H","g":"No","t":400,"s":0.357},{"p":"H","g":"No","t":405,"s":0.357},{"p":"H","g":"No","t":425,"s":0.306},{"p":"H","g":"No","t":440,"s":0.306},{"p":"H","g":"No","t":470,"s":0.306},
{"p":"H","g":"Yes","t":0,"s":1},{"p":"H","g":"Yes","t":7,"s":0.87},{"p":"H","g":"Yes","t":22,"s":0.722},{"p":"H","g":"Yes","t":32,"s":0.655},{"p":"H","g":"Yes","t":38,"s":0.634},{"p":"H","g":"Yes","t":42,"s":0.634},{"p":"H","g":"Yes","t":57,"s":0.536},{"p":"H","g":"Yes","t":62,"s":0.536},{"p":"H","g":"Yes","t":68,"s":0.536},{"p":"H","g":"Yes","t":83,"s":0.468},{"p":"H","g":"Yes","t":90,"s":0.468},{"p":"H","g":"Yes","t":110,"s":0.434},{"p":"H","g":"Yes","t":125,"s":0.389},{"p":"H","g":"Yes","t":128,"s":0.389},{"p":"H","g":"Yes","t":132,"s":0.389},{"p":"H","g":"Yes","t":152,"s":0.37},{"p":"H","g":"Yes","t":170,"s":0.35},{"p":"H","g":"Yes","t":180,"s":0.35},{"p":"H","g":"Yes","t":185,"s":0.35},{"p":"H","g":"Yes","t":200,"s":0.33},{"p":"H","g":"Yes","t":205,"s":0.33},{"p":"H","g":"Yes","t":215,"s":0.306},{"p":"H","g":"Yes","t":220,"s":0.306},{"p":"H","g":"Yes","t":230,"s":0.306},{"p":"H","g":"Yes","t":245,"s":0.271},{"p":"H","g":"Yes","t":300,"s":0.271},{"p":"H","g":"Yes","t":310,"s":0.271},{"p":"H","g":"Yes","t":313,"s":0.271},{"p":"H","g":"Yes","t":350,"s":0.202},{"p":"H","g":"Yes","t":500,"s":0.102},

{"p":"I","g":"Surgery","t":95,"s":0.723},{"p":"I","g":"Surgery","t":100,"s":0.723},{"p":"I","g":"Surgery","t":105,"s":0.723},{"p":"I","g":"Surgery","t":140,"s":0.657},{"p":"I","g":"Surgery","t":150,"s":0.641},{"p":"I","g":"Surgery","t":172,"s":0.61},{"p":"I","g":"Surgery","t":180,"s":0.61},{"p":"I","g":"Surgery","t":185,"s":0.61},{"p":"I","g":"Surgery","t":190,"s":0.61},{"p":"I","g":"Surgery","t":195,"s":0.61},{"p":"I","g":"Surgery","t":200,"s":0.61},{"p":"I","g":"Surgery","t":205,"s":0.61},{"p":"I","g":"Surgery","t":210,"s":0.61},{"p":"I","g":"Surgery","t":215,"s":0.61},{"p":"I","g":"Surgery","t":220,"s":0.61},{"p":"I","g":"Surgery","t":240,"s":0.569},{"p":"I","g":"Surgery","t":252,"s":0.554},{"p":"I","g":"Surgery","t":255,"s":0.554},{"p":"I","g":"Surgery","t":270,"s":0.525},{"p":"I","g":"Surgery","t":280,"s":0.51},{"p":"I","g":"Surgery","t":285,"s":0.51},{"p":"I","g":"Surgery","t":290,"s":0.51},{"p":"I","g":"Surgery","t":305,"s":0.476},{"p":"I","g":"Surgery","t":310,"s":0.476},{"p":"I","g":"Surgery","t":325,"s":0.433},{"p":"I","g":"Surgery","t":330,"s":0.433},{"p":"I","g":"Surgery","t":345,"s":0.404},{"p":"I","g":"Surgery","t":355,"s":0.404},{"p":"I","g":"Surgery","t":365,"s":0.404},{"p":"I","g":"Surgery","t":375,"s":0.404},{"p":"I","g":"Surgery","t":400,"s":0.404},{"p":"I","g":"Surgery","t":415,"s":0.404},{"p":"I","g":"Surgery","t":430,"s":0.404},{"p":"I","g":"Surgery","t":440,"s":0.404},{"p":"I","g":"Surgery","t":470,"s":0.404},{"p":"I","g":"Surgery","t":475,"s":0.404},
{"p":"I","g":"Surgery + RT","t":5,"s":0.954},{"p":"I","g":"Surgery + RT","t":18,"s":0.853},{"p":"I","g":"Surgery + RT","t":25,"s":0.8},{"p":"I","g":"Surgery + RT","t":38,"s":0.734},{"p":"I","g":"Surgery + RT","t":50,"s":0.662},{"p":"I","g":"Surgery + RT","t":55,"s":0.626},{"p":"I","g":"Surgery + RT","t":65,"s":0.626},{"p":"I","g":"Surgery + RT","t":82,"s":0.538},{"p":"I","g":"Surgery + RT","t":90,"s":0.538},{"p":"I","g":"Surgery + RT","t":125,"s":0.404},{"p":"I","g":"Surgery + RT","t":135,"s":0.404},{"p":"I","g":"Surgery + RT","t":150,"s":0.36},{"p":"I","g":"Surgery + RT","t":170,"s":0.36},{"p":"I","g":"Surgery + RT","t":185,"s":0.36},{"p":"I","g":"Surgery + RT","t":190,"s":0.36},{"p":"I","g":"Surgery + RT","t":230,"s":0.36},{"p":"I","g":"Surgery + RT","t":245,"s":0.36},
{"p":"I","g":"Surgery + RT + chemotherapy","t":0,"s":1},{"p":"I","g":"Surgery + RT + chemotherapy","t":15,"s":0.83},{"p":"I","g":"Surgery + RT + chemotherapy","t":48,"s":0.641},{"p":"I","g":"Surgery + RT + chemotherapy","t":60,"s":0.554},{"p":"I","g":"Surgery + RT + chemotherapy","t":65,"s":0.554},{"p":"I","g":"Surgery + RT + chemotherapy","t":70,"s":0.554},{"p":"I","g":"Surgery + RT + chemotherapy","t":82,"s":0.528},{"p":"I","g":"Surgery + RT + chemotherapy","t":90,"s":0.528},{"p":"I","g":"Surgery + RT + chemotherapy","t":130,"s":0.466},{"p":"I","g":"Surgery + RT + chemotherapy","t":135,"s":0.466},{"p":"I","g":"Surgery + RT + chemotherapy","t":180,"s":0.423},{"p":"I","g":"Surgery + RT + chemotherapy","t":200,"s":0.375},{"p":"I","g":"Surgery + RT + chemotherapy","t":220,"s":0.311},{"p":"I","g":"Surgery + RT + chemotherapy","t":300,"s":0.236},{"p":"I","g":"Surgery + RT + chemotherapy","t":350,"s":0.236},{"p":"I","g":"Surgery + RT + chemotherapy","t":500,"s":0.236}
],
"ann": [
{"p":"A","k":"p","t":10.4,"s":0.195,"label":"p < 0.0001"},{"p":"A","k":"l","t":511,"s":0.045,"label":"(A)"},
{"p":"B","k":"p","t":11.2,"s":0.195,"label":"p = 0.002"},{"p":"B","k":"l","t":510,"s":0.045,"label":"(B)"},
{"p":"C","k":"p","t":10.3,"s":0.195,"label":"p < 0.0001"},{"p":"C","k":"l","t":511,"s":0.045,"label":"(C)"},
{"p":"D","k":"p","t":3.4,"s":0.195,"label":"p < 0.0001"},{"p":"D","k":"l","t":157,"s":0.045,"label":"(D)"},
{"p":"E","k":"p","t":3.5,"s":0.195,"label":"p < 0.0001"},{"p":"E","k":"l","t":157,"s":0.045,"label":"(E)"},
{"p":"F","k":"p","t":3.2,"s":0.195,"label":"p < 0.0001"},{"p":"F","k":"l","t":157,"s":0.045,"label":"(F)"},
{"p":"G","k":"p","t":3.4,"s":0.195,"label":"p = 0.00066"},{"p":"G","k":"l","t":157,"s":0.045,"label":"(G)"},
{"p":"H","k":"p","t":11.2,"s":0.195,"label":"p < 0.0001"},{"p":"H","k":"l","t":510,"s":0.048,"label":"(H)"},
{"p":"I","k":"p","t":10.8,"s":0.195,"label":"p < 0.0001"},{"p":"I","k":"l","t":505,"s":0.046,"label":"(I)"}
]
},
"hconcat": [
{"spacing": 34, "resolve": {"scale": {"color": "independent"}, "legend": {"color": "independent"}}, "vconcat": [
 {"width": 440, "height": 326, "layer": [
  {"data": {"name": "cur"}, "transform": [{"filter": "datum.p==='A'"}], "mark": {"type": "line", "interpolate": "step-after", "strokeWidth": 2.5},
   "encoding": {"x": {"field": "t", "type": "quantitative", "scale": {"domain": [-25, 525], "nice": false, "zero": false}, "axis": {"values": [0,100,200,300,400,500], "title": "Survival (Months)"}},
    "y": {"field": "s", "type": "quantitative", "scale": {"domain": [-0.05, 1.05], "nice": false, "zero": false}, "axis": {"values": [0,0.25,0.5,0.75,1], "format": ".2f", "title": "Survival probability"}},
    "color": {"field": "g", "type": "nominal", "scale": {"domain": ["0-19","30-39","50-59","70-79","20-29","40-49","60-69","80+"], "range": ["#F2766E","#7DAE2E","#17B9C0","#B07DD0","#CB9425","#1CB155","#4A9ADB","#E9579F"]}, "legend": {"title": "Age at diagnosis", "columns": 4}}}},
  {"data": {"name": "cen"}, "transform": [{"filter": "datum.p==='A'"}], "mark": {"type": "point", "shape": "M0,-1V1", "size": 100, "strokeWidth": 1.4, "filled": false, "opacity": 1},
   "encoding": {"x": {"field": "t", "type": "quantitative"}, "y": {"field": "s", "type": "quantitative"}, "color": {"field": "g", "type": "nominal", "legend": null}}},
  {"data": {"name": "ann"}, "transform": [{"filter": "datum.p==='A' && datum.k==='p'"}], "mark": {"type": "text", "align": "left", "baseline": "middle", "fontSize": 18, "color": "black"},
   "encoding": {"x": {"field": "t", "type": "quantitative"}, "y": {"field": "s", "type": "quantitative"}, "text": {"field": "label"}}},
  {"data": {"name": "ann"}, "transform": [{"filter": "datum.p==='A' && datum.k==='l'"}], "mark": {"type": "text", "align": "right", "baseline": "middle", "fontSize": 22, "fontWeight": "bold", "color": "black"},
   "encoding": {"x": {"field": "t", "type": "quantitative"}, "y": {"field": "s", "type": "quantitative"}, "text": {"field": "label"}}}
 ]},
 {"width": 440, "height": 352, "layer": [
  {"data": {"name": "cur"}, "transform": [{"filter": "datum.p==='D'"}], "mark": {"type": "line", "interpolate": "step-after", "strokeWidth": 2.5},
   "encoding": {"x": {"field": "t", "type": "quantitative", "scale": {"domain": [-7.75, 162.75], "nice": false, "zero": false}, "axis": {"values": [0,50,100,150], "title": "Survival (Months)"}},
    "y": {"field": "s", "type": "quantitative", "scale": {"domain": [-0.05, 1.05], "nice": false, "zero": false}, "axis": {"values": [0,0.25,0.5,0.75,1], "format": ".2f", "title": "Survival probability"}},
    "color": {"field": "g", "type": "nominal", "scale": {"domain": ["N0","N1"], "range": ["#F2766E","#17B9C0"]}, "legend": {"title": "AJCC N"}}}},
  {"data": {"name": "cen"}, "transform": [{"filter": "datum.p==='D'"}], "mark": {"type": "point", "shape": "M0,-1V1", "size": 100, "strokeWidth": 1.4, "filled": false, "opacity": 1},
   "encoding": {"x": {"field": "t", "type": "quantitative"}, "y": {"field": "s", "type": "quantitative"}, "color": {"field": "g", "type": "nominal", "legend": null}}},
  {"data": {"name": "ann"}, "transform": [{"filter": "datum.p==='D' && datum.k==='p'"}], "mark": {"type": "text", "align": "left", "baseline": "middle", "fontSize": 18, "color": "black"},
   "encoding": {"x": {"field": "t", "type": "quantitative"}, "y": {"field": "s", "type": "quantitative"}, "text": {"field": "label"}}},
  {"data": {"name": "ann"}, "transform": [{"filter": "datum.p==='D' && datum.k==='l'"}], "mark": {"type": "text", "align": "right", "baseline": "middle", "fontSize": 22, "fontWeight": "bold", "color": "black"},
   "encoding": {"x": {"field": "t", "type": "quantitative"}, "y": {"field": "s", "type": "quantitative"}, "text": {"field": "label"}}}
 ]},
 {"width": 440, "height": 353, "layer": [
  {"data": {"name": "cur"}, "transform": [{"filter": "datum.p==='G'"}], "mark": {"type": "line", "interpolate": "step-after", "strokeWidth": 2.5},
   "encoding": {"x": {"field": "t", "type": "quantitative", "scale": {"domain": [-7.75, 162.75], "nice": false, "zero": false}, "axis": {"values": [0,50,100,150], "title": "Survival (Months)"}},
    "y": {"field": "s", "type": "quantitative", "scale": {"domain": [-0.05, 1.05], "nice": false, "zero": false}, "axis": {"values": [0,0.25,0.5,0.75,1], "format": ".2f", "title": "Survival probability"}},
    "color": {"field": "g", "type": "nominal", "scale": {"domain": ["0","T1","T2","T3"], "range": ["#F2766E","#7DAE2E","#17B9C0","#B07DD0"]}, "legend": {"title": "AJCC T"}}}},
  {"data": {"name": "cen"}, "transform": [{"filter": "datum.p==='G'"}], "mark": {"type": "point", "shape": "M0,-1V1", "size": 100, "strokeWidth": 1.4, "filled": false, "opacity": 1},
   "encoding": {"x": {"field": "t", "type": "quantitative"}, "y": {"field": "s", "type": "quantitative"}, "color": {"field": "g", "type": "nominal", "legend": null}}},
  {"data": {"name": "ann"}, "transform": [{"filter": "datum.p==='G' && datum.k==='p'"}], "mark": {"type": "text", "align": "left", "baseline": "middle", "fontSize": 18, "color": "black"},
   "encoding": {"x": {"field": "t", "type": "quantitative"}, "y": {"field": "s", "type": "quantitative"}, "text": {"field": "label"}}},
  {"data": {"name": "ann"}, "transform": [{"filter": "datum.p==='G' && datum.k==='l'"}], "mark": {"type": "text", "align": "right", "baseline": "middle", "fontSize": 22, "fontWeight": "bold", "color": "black"},
   "encoding": {"x": {"field": "t", "type": "quantitative"}, "y": {"field": "s", "type": "quantitative"}, "text": {"field": "label"}}}
 ]}
]},
{"spacing": 34, "resolve": {"scale": {"color": "independent"}, "legend": {"color": "independent"}}, "vconcat": [
 {"width": 440, "height": 326, "layer": [
  {"data": {"name": "cur"}, "transform": [{"filter": "datum.p==='B'"}], "mark": {"type": "line", "interpolate": "step-after", "strokeWidth": 2.5},
   "encoding": {"x": {"field": "t", "type": "quantitative", "scale": {"domain": [-25, 525], "nice": false, "zero": false}, "axis": {"values": [0,100,200,300,400,500], "title": "Survival (Months)"}},
    "y": {"field": "s", "type": "quantitative", "scale": {"domain": [-0.05, 1.05], "range": [326, -26], "nice": false, "zero": false}, "axis": {"values": [0,0.25,0.5,0.75,1], "format": ".2f", "title": "Survival probability"}},
    "color": {"field": "g", "type": "nominal", "scale": {"domain": ["Others","Black","White"], "range": ["#F2766E","#1DAE43","#6A93D6"]}, "legend": {"title": "Race", "offset": 37}}}},
  {"data": {"name": "cen"}, "transform": [{"filter": "datum.p==='B'"}], "mark": {"type": "point", "shape": "M0,-1V1", "size": 100, "strokeWidth": 1.4, "filled": false, "opacity": 1},
   "encoding": {"x": {"field": "t", "type": "quantitative"}, "y": {"field": "s", "type": "quantitative"}, "color": {"field": "g", "type": "nominal", "legend": null}}},
  {"data": {"name": "ann"}, "transform": [{"filter": "datum.p==='B' && datum.k==='p'"}], "mark": {"type": "text", "align": "left", "baseline": "middle", "fontSize": 18, "color": "black"},
   "encoding": {"x": {"field": "t", "type": "quantitative"}, "y": {"field": "s", "type": "quantitative"}, "text": {"field": "label"}}},
  {"data": {"name": "ann"}, "transform": [{"filter": "datum.p==='B' && datum.k==='l'"}], "mark": {"type": "text", "align": "right", "baseline": "middle", "fontSize": 22, "fontWeight": "bold", "color": "black"},
   "encoding": {"x": {"field": "t", "type": "quantitative"}, "y": {"field": "s", "type": "quantitative"}, "text": {"field": "label"}}}
 ]},
 {"width": 440, "height": 354, "layer": [
  {"data": {"name": "cur"}, "transform": [{"filter": "datum.p==='E'"}], "mark": {"type": "line", "interpolate": "step-after", "strokeWidth": 2.5},
   "encoding": {"x": {"field": "t", "type": "quantitative", "scale": {"domain": [-7.75, 162.75], "nice": false, "zero": false}, "axis": {"values": [0,50,100,150], "title": "Survival (Months)"}},
    "y": {"field": "s", "type": "quantitative", "scale": {"domain": [-0.05, 1.05], "nice": false, "zero": false}, "axis": {"values": [0,0.25,0.5,0.75,1], "format": ".2f", "title": "Survival probability"}},
    "color": {"field": "g", "type": "nominal", "scale": {"domain": ["M0","M1","MX"], "range": ["#F2766E","#1DAE43","#6A93D6"]}, "legend": {"title": "AJCC M"}}}},
  {"data": {"name": "cen"}, "transform": [{"filter": "datum.p==='E'"}], "mark": {"type": "point", "shape": "M0,-1V1", "size": 100, "strokeWidth": 1.4, "filled": false, "opacity": 1},
   "encoding": {"x": {"field": "t", "type": "quantitative"}, "y": {"field": "s", "type": "quantitative"}, "color": {"field": "g", "type": "nominal", "legend": null}}},
  {"data": {"name": "ann"}, "transform": [{"filter": "datum.p==='E' && datum.k==='p'"}], "mark": {"type": "text", "align": "left", "baseline": "middle", "fontSize": 18, "color": "black"},
   "encoding": {"x": {"field": "t", "type": "quantitative"}, "y": {"field": "s", "type": "quantitative"}, "text": {"field": "label"}}},
  {"data": {"name": "ann"}, "transform": [{"filter": "datum.p==='E' && datum.k==='l'"}], "mark": {"type": "text", "align": "right", "baseline": "middle", "fontSize": 22, "fontWeight": "bold", "color": "black"},
   "encoding": {"x": {"field": "t", "type": "quantitative"}, "y": {"field": "s", "type": "quantitative"}, "text": {"field": "label"}}}
 ]},
 {"width": 440, "height": 354, "layer": [
  {"data": {"name": "cur"}, "transform": [{"filter": "datum.p==='H'"}], "mark": {"type": "line", "interpolate": "step-after", "strokeWidth": 2.5},
   "encoding": {"x": {"field": "t", "type": "quantitative", "scale": {"domain": [-25, 525], "nice": false, "zero": false}, "axis": {"values": [0,100,200,300,400,500], "title": "Survival (Months)"}},
    "y": {"field": "s", "type": "quantitative", "scale": {"domain": [-0.05, 1.05], "nice": false, "zero": false}, "axis": {"values": [0,0.25,0.5,0.75,1], "format": ".2f", "title": "Survival probability"}},
    "color": {"field": "g", "type": "nominal", "scale": {"domain": ["No","Yes"], "range": ["#F2766E","#17B9C0"]}, "legend": {"title": "Radiotherapy"}}}},
  {"data": {"name": "cen"}, "transform": [{"filter": "datum.p==='H'"}], "mark": {"type": "point", "shape": "M0,-1V1", "size": 100, "strokeWidth": 1.4, "filled": false, "opacity": 1},
   "encoding": {"x": {"field": "t", "type": "quantitative"}, "y": {"field": "s", "type": "quantitative"}, "color": {"field": "g", "type": "nominal", "legend": null}}},
  {"data": {"name": "ann"}, "transform": [{"filter": "datum.p==='H' && datum.k==='p'"}], "mark": {"type": "text", "align": "left", "baseline": "middle", "fontSize": 18, "color": "black"},
   "encoding": {"x": {"field": "t", "type": "quantitative"}, "y": {"field": "s", "type": "quantitative"}, "text": {"field": "label"}}},
  {"data": {"name": "ann"}, "transform": [{"filter": "datum.p==='H' && datum.k==='l'"}], "mark": {"type": "text", "align": "right", "baseline": "middle", "fontSize": 22, "fontWeight": "bold", "color": "black"},
   "encoding": {"x": {"field": "t", "type": "quantitative"}, "y": {"field": "s", "type": "quantitative"}, "text": {"field": "label"}}}
 ]}
]},
{"spacing": 34, "resolve": {"scale": {"color": "independent"}, "legend": {"color": "independent"}}, "vconcat": [
 {"width": 440, "height": 327, "layer": [
  {"data": {"name": "cur"}, "transform": [{"filter": "datum.p==='C'"}], "mark": {"type": "line", "interpolate": "step-after", "strokeWidth": 2.5},
   "encoding": {"x": {"field": "t", "type": "quantitative", "scale": {"domain": [-25, 525], "nice": false, "zero": false}, "axis": {"values": [0,100,200,300,400,500], "title": "Survival (Months)"}},
    "y": {"field": "s", "type": "quantitative", "scale": {"domain": [-0.05, 1.05], "nice": false, "zero": false}, "axis": {"values": [0,0.25,0.5,0.75,1], "format": ".2f", "title": "Survival probability"}},
    "color": {"field": "g", "type": "nominal", "scale": {"domain": ["UMBT","Osteosarcoma","FO","Chondrosarcoma","Other","SCC","CO","ES","MOT"], "range": ["#F2766E","#93AA2A","#12B99B","#6A93D6","#E85A9E","#CF9128","#1DAE43","#1DB5DD","#B77DCC"]}, "legend": {"title": "Tumor types", "columns": 5, "labelExpr": "datum.label === 'Other' ? '' : datum.label"}}}},
  {"data": {"name": "cen"}, "transform": [{"filter": "datum.p==='C'"}], "mark": {"type": "point", "shape": "M0,-1V1", "size": 100, "strokeWidth": 1.4, "filled": false, "opacity": 1},
   "encoding": {"x": {"field": "t", "type": "quantitative"}, "y": {"field": "s", "type": "quantitative"}, "color": {"field": "g", "type": "nominal", "legend": null}}},
  {"data": {"name": "ann"}, "transform": [{"filter": "datum.p==='C' && datum.k==='p'"}], "mark": {"type": "text", "align": "left", "baseline": "middle", "fontSize": 18, "color": "black"},
   "encoding": {"x": {"field": "t", "type": "quantitative"}, "y": {"field": "s", "type": "quantitative"}, "text": {"field": "label"}}},
  {"data": {"name": "ann"}, "transform": [{"filter": "datum.p==='C' && datum.k==='l'"}], "mark": {"type": "text", "align": "right", "baseline": "middle", "fontSize": 22, "fontWeight": "bold", "color": "black"},
   "encoding": {"x": {"field": "t", "type": "quantitative"}, "y": {"field": "s", "type": "quantitative"}, "text": {"field": "label"}}}
 ]},
 {"width": 440, "height": 352, "layer": [
  {"data": {"name": "cur"}, "transform": [{"filter": "datum.p==='F'"}], "mark": {"type": "line", "interpolate": "step-after", "strokeWidth": 2.5},
   "encoding": {"x": {"field": "t", "type": "quantitative", "scale": {"domain": [-7.75, 162.75], "nice": false, "zero": false}, "axis": {"values": [0,50,100,150], "title": "Survival (Months)"}},
    "y": {"field": "s", "type": "quantitative", "scale": {"domain": [-0.05, 1.05], "nice": false, "zero": false}, "axis": {"values": [0,0.25,0.5,0.75,1], "format": ".2f", "title": "Survival probability"}},
    "color": {"field": "g", "type": "nominal", "scale": {"domain": ["Stage I","Stage II","Stage III","Stage IV"], "range": ["#F2766E","#7DAE2E","#17B9C0","#B07DD0"]}, "legend": {"title": "AJCC Stage"}}}},
  {"data": {"name": "cen"}, "transform": [{"filter": "datum.p==='F'"}], "mark": {"type": "point", "shape": "M0,-1V1", "size": 100, "strokeWidth": 1.4, "filled": false, "opacity": 1},
   "encoding": {"x": {"field": "t", "type": "quantitative"}, "y": {"field": "s", "type": "quantitative"}, "color": {"field": "g", "type": "nominal", "legend": null}}},
  {"data": {"name": "ann"}, "transform": [{"filter": "datum.p==='F' && datum.k==='p'"}], "mark": {"type": "text", "align": "left", "baseline": "middle", "fontSize": 18, "color": "black"},
   "encoding": {"x": {"field": "t", "type": "quantitative"}, "y": {"field": "s", "type": "quantitative"}, "text": {"field": "label"}}},
  {"data": {"name": "ann"}, "transform": [{"filter": "datum.p==='F' && datum.k==='l'"}], "mark": {"type": "text", "align": "right", "baseline": "middle", "fontSize": 22, "fontWeight": "bold", "color": "black"},
   "encoding": {"x": {"field": "t", "type": "quantitative"}, "y": {"field": "s", "type": "quantitative"}, "text": {"field": "label"}}}
 ]},
 {"width": 440, "height": 355, "layer": [
  {"data": {"name": "cur"}, "transform": [{"filter": "datum.p==='I'"}], "mark": {"type": "line", "interpolate": "step-after", "strokeWidth": 2.5},
   "encoding": {"x": {"field": "t", "type": "quantitative", "scale": {"domain": [-25, 525], "nice": false, "zero": false}, "axis": {"values": [0,100,200,300,400,500], "title": "Survival (Months)"}},
    "y": {"field": "s", "type": "quantitative", "scale": {"domain": [-0.05, 1.05], "nice": false, "zero": false}, "axis": {"values": [0,0.25,0.5,0.75,1], "format": ".2f", "title": "Survival probability"}},
    "color": {"field": "g", "type": "nominal", "scale": {"domain": ["Surgery","Surgery + RT","Surgery + RT + chemotherapy"], "range": ["#F2766E","#1DAE43","#6A93D6"]}, "legend": {"title": "Treatment"}}}},
  {"data": {"name": "cen"}, "transform": [{"filter": "datum.p==='I'"}], "mark": {"type": "point", "shape": "M0,-1V1", "size": 100, "strokeWidth": 1.4, "filled": false, "opacity": 1},
   "encoding": {"x": {"field": "t", "type": "quantitative"}, "y": {"field": "s", "type": "quantitative"}, "color": {"field": "g", "type": "nominal", "legend": null}}},
  {"data": {"name": "ann"}, "transform": [{"filter": "datum.p==='I' && datum.k==='p'"}], "mark": {"type": "text", "align": "left", "baseline": "middle", "fontSize": 18, "color": "black"},
   "encoding": {"x": {"field": "t", "type": "quantitative"}, "y": {"field": "s", "type": "quantitative"}, "text": {"field": "label"}}},
  {"data": {"name": "ann"}, "transform": [{"filter": "datum.p==='I' && datum.k==='l'"}], "mark": {"type": "text", "align": "right", "baseline": "middle", "fontSize": 22, "fontWeight": "bold", "color": "black"},
   "encoding": {"x": {"field": "t", "type": "quantitative"}, "y": {"field": "s", "type": "quantitative"}, "text": {"field": "label"}}}
 ]}
]}
]
}
